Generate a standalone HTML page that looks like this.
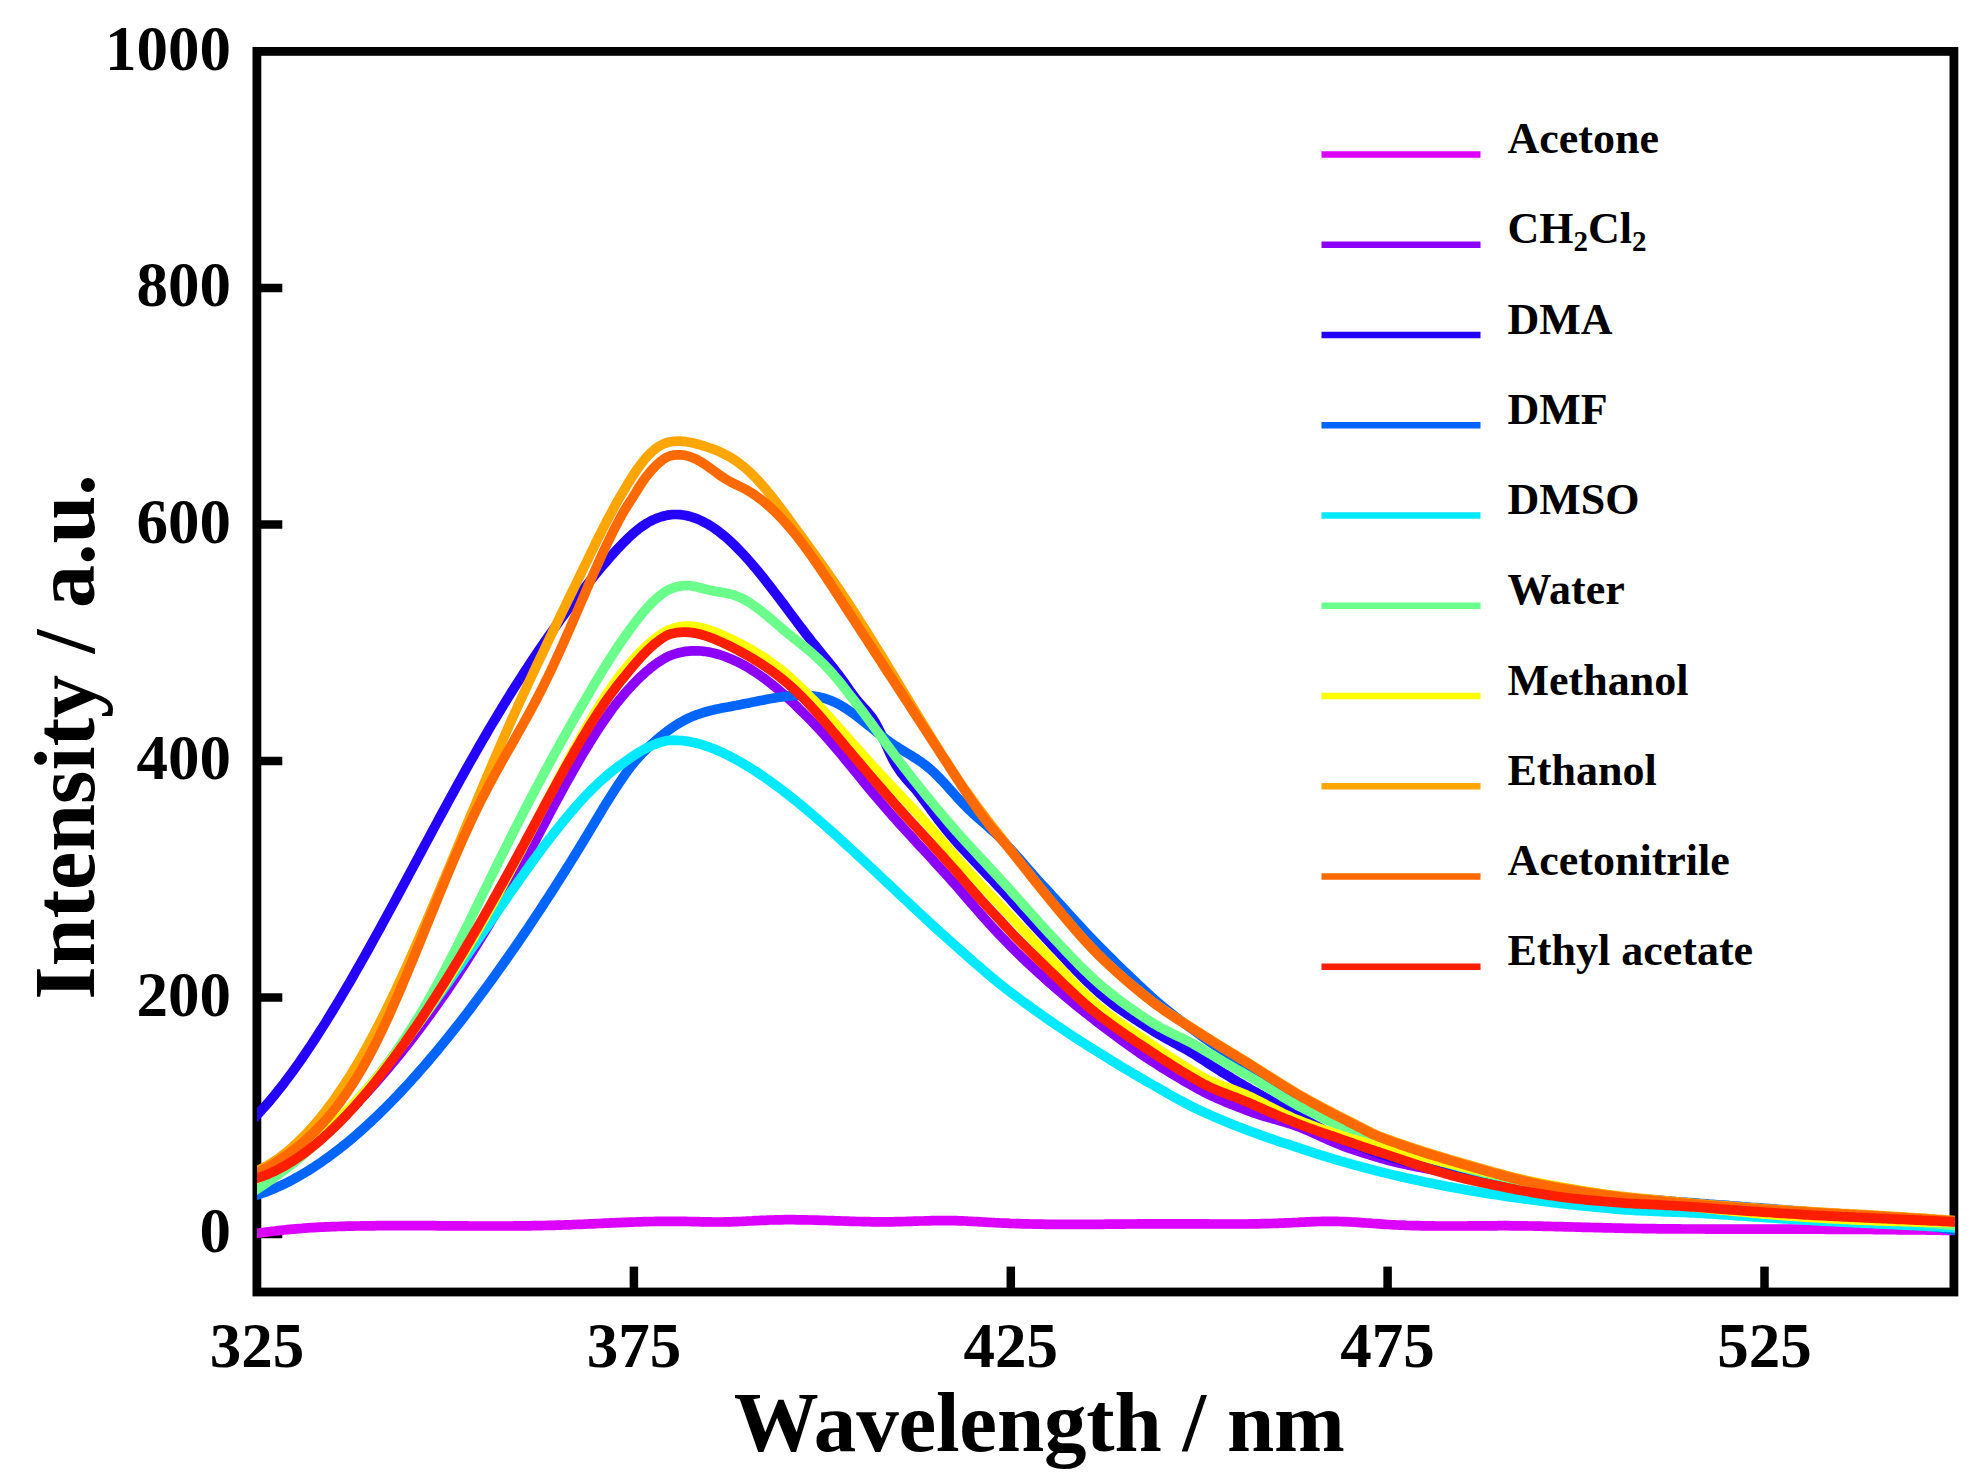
<!DOCTYPE html>
<html><head><meta charset="utf-8"><title>Fluorescence spectra</title>
<style>html,body{margin:0;padding:0;background:#fff}body{width:1986px;height:1484px;overflow:hidden}</style></head>
<body>
<svg width="1986" height="1484" viewBox="0 0 1986 1484" style="display:block">
<rect width="1986" height="1484" fill="#fff"/>
<defs><clipPath id="pc"><rect x="257" y="40" width="1698" height="1253"/></clipPath></defs>
<rect x="256.9" y="51.4" width="1697.0" height="1240.6" fill="none" stroke="#000" stroke-width="8.8"/>
<line x1="256.9" y1="1234.0" x2="282.3" y2="1234.0" stroke="#000" stroke-width="8.5"/>
<line x1="256.9" y1="997.5" x2="282.3" y2="997.5" stroke="#000" stroke-width="8.5"/>
<line x1="256.9" y1="761.0" x2="282.3" y2="761.0" stroke="#000" stroke-width="8.5"/>
<line x1="256.9" y1="524.5" x2="282.3" y2="524.5" stroke="#000" stroke-width="8.5"/>
<line x1="256.9" y1="288.0" x2="282.3" y2="288.0" stroke="#000" stroke-width="8.5"/>
<line x1="633.9" y1="1292.0" x2="633.9" y2="1266.6" stroke="#000" stroke-width="8.5"/>
<line x1="1010.8" y1="1292.0" x2="1010.8" y2="1266.6" stroke="#000" stroke-width="8.5"/>
<line x1="1387.6" y1="1292.0" x2="1387.6" y2="1266.6" stroke="#000" stroke-width="8.5"/>
<line x1="1764.5" y1="1292.0" x2="1764.5" y2="1266.6" stroke="#000" stroke-width="8.5"/>
<g clip-path="url(#pc)" fill="none" stroke-linejoin="round" stroke-linecap="butt">
<path d="M248.0,1234.8 L257.0,1233.4 L260.0,1232.9 L263.0,1232.5 L266.0,1232.1 L269.0,1231.7 L272.0,1231.3 L275.0,1231.0 L278.0,1230.6 L281.0,1230.3 L284.0,1230.0 L287.0,1229.7 L290.0,1229.4 L293.0,1229.1 L296.0,1228.8 L299.0,1228.6 L302.0,1228.4 L305.0,1228.1 L308.0,1227.9 L311.0,1227.7 L314.0,1227.6 L317.0,1227.4 L320.0,1227.2 L323.0,1227.1 L326.0,1226.9 L329.0,1226.8 L332.0,1226.7 L335.0,1226.6 L338.0,1226.5 L341.0,1226.4 L344.0,1226.3 L347.0,1226.2 L350.0,1226.1 L353.0,1226.1 L356.0,1226.0 L359.0,1226.0 L362.0,1225.9 L365.0,1225.9 L368.0,1225.8 L371.0,1225.8 L374.0,1225.8 L377.0,1225.7 L380.0,1225.7 L383.0,1225.7 L386.0,1225.7 L389.0,1225.6 L392.0,1225.6 L395.0,1225.6 L398.0,1225.6 L401.0,1225.6 L404.0,1225.6 L407.0,1225.6 L410.0,1225.6 L413.0,1225.6 L416.0,1225.7 L419.0,1225.7 L422.0,1225.7 L425.0,1225.7 L428.0,1225.7 L431.0,1225.7 L434.0,1225.7 L437.0,1225.8 L440.0,1225.8 L443.0,1225.8 L446.0,1225.8 L449.0,1225.8 L452.0,1225.9 L455.0,1225.9 L458.0,1225.9 L461.0,1225.9 L464.0,1225.9 L467.0,1225.9 L470.0,1226.0 L473.0,1226.0 L476.0,1226.0 L479.0,1226.0 L482.0,1226.0 L485.0,1226.0 L488.0,1226.0 L491.0,1226.0 L494.0,1226.0 L497.0,1226.0 L500.0,1226.0 L503.0,1226.0 L506.0,1226.0 L509.0,1226.0 L512.0,1226.0 L515.0,1225.9 L518.0,1225.9 L521.0,1225.9 L524.0,1225.9 L527.0,1225.8 L530.0,1225.8 L533.0,1225.7 L536.0,1225.7 L539.0,1225.6 L542.0,1225.6 L545.0,1225.5 L548.0,1225.4 L551.0,1225.4 L554.0,1225.3 L557.0,1225.2 L560.0,1225.1 L563.0,1225.0 L566.0,1224.9 L569.0,1224.8 L572.0,1224.7 L575.0,1224.5 L578.0,1224.4 L581.0,1224.3 L584.0,1224.2 L587.0,1224.0 L590.0,1223.9 L593.0,1223.8 L596.0,1223.6 L599.0,1223.5 L602.0,1223.3 L605.0,1223.2 L608.0,1223.1 L611.0,1222.9 L614.0,1222.8 L617.0,1222.7 L620.0,1222.6 L623.0,1222.4 L626.0,1222.3 L629.0,1222.2 L632.0,1222.1 L635.0,1222.0 L638.0,1221.9 L641.0,1221.8 L644.0,1221.7 L647.0,1221.6 L650.0,1221.5 L653.0,1221.5 L656.0,1221.4 L659.0,1221.4 L662.0,1221.3 L665.0,1221.3 L668.0,1221.3 L671.0,1221.3 L674.0,1221.3 L677.0,1221.3 L680.0,1221.3 L683.0,1221.4 L686.0,1221.4 L689.0,1221.5 L692.0,1221.6 L695.0,1221.6 L698.0,1221.7 L701.0,1221.8 L704.0,1221.8 L707.0,1221.9 L710.0,1221.9 L713.0,1222.0 L716.0,1222.0 L719.0,1222.0 L722.0,1222.0 L725.0,1221.9 L728.0,1221.9 L731.0,1221.8 L734.0,1221.7 L737.0,1221.6 L740.0,1221.5 L743.0,1221.3 L746.0,1221.2 L749.0,1221.0 L752.0,1220.9 L755.0,1220.7 L758.0,1220.6 L761.0,1220.4 L764.0,1220.3 L767.0,1220.2 L770.0,1220.0 L773.0,1220.0 L776.0,1219.9 L779.0,1219.8 L782.0,1219.8 L785.0,1219.7 L788.0,1219.7 L791.0,1219.7 L794.0,1219.7 L797.0,1219.8 L800.0,1219.8 L803.0,1219.8 L806.0,1219.9 L809.0,1220.0 L812.0,1220.0 L815.0,1220.1 L818.0,1220.2 L821.0,1220.3 L824.0,1220.4 L827.0,1220.5 L830.0,1220.6 L833.0,1220.7 L836.0,1220.8 L839.0,1220.9 L842.0,1221.0 L845.0,1221.1 L848.0,1221.2 L851.0,1221.3 L854.0,1221.4 L857.0,1221.5 L860.0,1221.5 L863.0,1221.6 L866.0,1221.7 L869.0,1221.7 L872.0,1221.8 L875.0,1221.8 L878.0,1221.8 L881.0,1221.9 L884.0,1221.9 L887.0,1221.8 L890.0,1221.8 L893.0,1221.8 L896.0,1221.7 L899.0,1221.6 L902.0,1221.6 L905.0,1221.5 L908.0,1221.4 L911.0,1221.3 L914.0,1221.2 L917.0,1221.1 L920.0,1221.0 L923.0,1221.0 L926.0,1220.9 L929.0,1220.8 L932.0,1220.7 L935.0,1220.7 L938.0,1220.6 L941.0,1220.6 L944.0,1220.6 L947.0,1220.6 L950.0,1220.6 L953.0,1220.6 L956.0,1220.7 L959.0,1220.8 L962.0,1220.9 L965.0,1221.0 L968.0,1221.2 L971.0,1221.3 L974.0,1221.5 L977.0,1221.6 L980.0,1221.8 L983.0,1222.0 L986.0,1222.2 L989.0,1222.3 L992.0,1222.5 L995.0,1222.7 L998.0,1222.8 L1001.0,1223.0 L1004.0,1223.1 L1007.0,1223.2 L1010.0,1223.4 L1013.0,1223.5 L1016.0,1223.6 L1019.0,1223.7 L1022.0,1223.8 L1025.0,1223.9 L1028.0,1223.9 L1031.0,1224.0 L1034.0,1224.1 L1037.0,1224.1 L1040.0,1224.2 L1043.0,1224.2 L1046.0,1224.3 L1049.0,1224.3 L1052.0,1224.3 L1055.0,1224.3 L1058.0,1224.4 L1061.0,1224.4 L1064.0,1224.4 L1067.0,1224.4 L1070.0,1224.4 L1073.0,1224.4 L1076.0,1224.4 L1079.0,1224.4 L1082.0,1224.4 L1085.0,1224.4 L1088.0,1224.4 L1091.0,1224.3 L1094.0,1224.3 L1097.0,1224.3 L1100.0,1224.3 L1103.0,1224.3 L1106.0,1224.2 L1109.0,1224.2 L1112.0,1224.2 L1115.0,1224.2 L1118.0,1224.1 L1121.0,1224.1 L1124.0,1224.1 L1127.0,1224.0 L1130.0,1224.0 L1133.0,1224.0 L1136.0,1224.0 L1139.0,1223.9 L1142.0,1223.9 L1145.0,1223.9 L1148.0,1223.9 L1151.0,1223.8 L1154.0,1223.8 L1157.0,1223.8 L1160.0,1223.8 L1163.0,1223.8 L1166.0,1223.8 L1169.0,1223.8 L1172.0,1223.8 L1175.0,1223.8 L1178.0,1223.8 L1181.0,1223.8 L1184.0,1223.8 L1187.0,1223.8 L1190.0,1223.8 L1193.0,1223.8 L1196.0,1223.9 L1199.0,1223.9 L1202.0,1223.9 L1205.0,1223.9 L1208.0,1223.9 L1211.0,1224.0 L1214.0,1224.0 L1217.0,1224.0 L1220.0,1224.0 L1223.0,1224.0 L1226.0,1224.0 L1229.0,1224.0 L1232.0,1224.0 L1235.0,1224.0 L1238.0,1224.0 L1241.0,1224.0 L1244.0,1224.0 L1247.0,1224.0 L1250.0,1223.9 L1253.0,1223.9 L1256.0,1223.9 L1259.0,1223.8 L1262.0,1223.7 L1265.0,1223.7 L1268.0,1223.6 L1271.0,1223.5 L1274.0,1223.4 L1277.0,1223.3 L1280.0,1223.2 L1283.0,1223.1 L1286.0,1222.9 L1289.0,1222.8 L1292.0,1222.7 L1295.0,1222.5 L1298.0,1222.4 L1301.0,1222.2 L1304.0,1222.1 L1307.0,1221.9 L1310.0,1221.8 L1313.0,1221.7 L1316.0,1221.6 L1319.0,1221.5 L1322.0,1221.4 L1325.0,1221.4 L1328.0,1221.4 L1331.0,1221.3 L1334.0,1221.4 L1337.0,1221.4 L1340.0,1221.5 L1343.0,1221.6 L1346.0,1221.7 L1349.0,1221.8 L1352.0,1222.0 L1355.0,1222.2 L1358.0,1222.4 L1361.0,1222.6 L1364.0,1222.8 L1367.0,1223.0 L1370.0,1223.2 L1373.0,1223.5 L1376.0,1223.7 L1379.0,1223.9 L1382.0,1224.1 L1385.0,1224.3 L1388.0,1224.5 L1391.0,1224.7 L1394.0,1224.8 L1397.0,1225.0 L1400.0,1225.1 L1403.0,1225.2 L1406.0,1225.4 L1409.0,1225.5 L1412.0,1225.6 L1415.0,1225.6 L1418.0,1225.7 L1421.0,1225.8 L1424.0,1225.8 L1427.0,1225.9 L1430.0,1225.9 L1433.0,1225.9 L1436.0,1226.0 L1439.0,1226.0 L1442.0,1226.0 L1445.0,1226.0 L1448.0,1226.0 L1451.0,1226.0 L1454.0,1226.0 L1457.0,1226.0 L1460.0,1226.0 L1463.0,1226.0 L1466.0,1226.0 L1469.0,1225.9 L1472.0,1225.9 L1475.0,1225.9 L1478.0,1225.9 L1481.0,1225.8 L1484.0,1225.8 L1487.0,1225.8 L1490.0,1225.8 L1493.0,1225.8 L1496.0,1225.8 L1499.0,1225.7 L1502.0,1225.7 L1505.0,1225.7 L1508.0,1225.7 L1511.0,1225.8 L1514.0,1225.8 L1517.0,1225.8 L1520.0,1225.8 L1523.0,1225.9 L1526.0,1225.9 L1529.0,1226.0 L1532.0,1226.0 L1535.0,1226.1 L1538.0,1226.1 L1541.0,1226.2 L1544.0,1226.3 L1547.0,1226.3 L1550.0,1226.4 L1553.0,1226.5 L1556.0,1226.6 L1559.0,1226.6 L1562.0,1226.7 L1565.0,1226.8 L1568.0,1226.9 L1571.0,1226.9 L1574.0,1227.0 L1577.0,1227.1 L1580.0,1227.2 L1583.0,1227.3 L1586.0,1227.3 L1589.0,1227.4 L1592.0,1227.5 L1595.0,1227.6 L1598.0,1227.7 L1601.0,1227.7 L1604.0,1227.8 L1607.0,1227.9 L1610.0,1227.9 L1613.0,1228.0 L1616.0,1228.1 L1619.0,1228.1 L1622.0,1228.2 L1625.0,1228.3 L1628.0,1228.3 L1631.0,1228.4 L1634.0,1228.4 L1637.0,1228.5 L1640.0,1228.5 L1643.0,1228.6 L1646.0,1228.6 L1649.0,1228.7 L1652.0,1228.7 L1655.0,1228.7 L1658.0,1228.8 L1661.0,1228.8 L1664.0,1228.8 L1667.0,1228.9 L1670.0,1228.9 L1673.0,1228.9 L1676.0,1228.9 L1679.0,1228.9 L1682.0,1229.0 L1685.0,1229.0 L1688.0,1229.0 L1691.0,1229.0 L1694.0,1229.0 L1697.0,1229.0 L1700.0,1229.0 L1703.0,1229.0 L1706.0,1229.1 L1709.0,1229.1 L1712.0,1229.1 L1715.0,1229.1 L1718.0,1229.1 L1721.0,1229.1 L1724.0,1229.1 L1727.0,1229.1 L1730.0,1229.1 L1733.0,1229.1 L1736.0,1229.1 L1739.0,1229.1 L1742.0,1229.1 L1745.0,1229.1 L1748.0,1229.1 L1751.0,1229.1 L1754.0,1229.1 L1757.0,1229.1 L1760.0,1229.1 L1763.0,1229.1 L1766.0,1229.1 L1769.0,1229.1 L1772.0,1229.1 L1775.0,1229.1 L1778.0,1229.1 L1781.0,1229.1 L1784.0,1229.1 L1787.0,1229.1 L1790.0,1229.1 L1793.0,1229.1 L1796.0,1229.1 L1799.0,1229.2 L1802.0,1229.2 L1805.0,1229.2 L1808.0,1229.2 L1811.0,1229.2 L1814.0,1229.2 L1817.0,1229.2 L1820.0,1229.2 L1823.0,1229.2 L1826.0,1229.3 L1829.0,1229.3 L1832.0,1229.3 L1835.0,1229.3 L1838.0,1229.3 L1841.0,1229.3 L1844.0,1229.4 L1847.0,1229.4 L1850.0,1229.4 L1853.0,1229.4 L1856.0,1229.4 L1859.0,1229.5 L1862.0,1229.5 L1865.0,1229.5 L1868.0,1229.5 L1871.0,1229.5 L1874.0,1229.6 L1877.0,1229.6 L1880.0,1229.6 L1883.0,1229.6 L1886.0,1229.7 L1889.0,1229.7 L1892.0,1229.7 L1895.0,1229.7 L1898.0,1229.8 L1901.0,1229.8 L1904.0,1229.8 L1907.0,1229.9 L1910.0,1229.9 L1913.0,1229.9 L1916.0,1229.9 L1919.0,1230.0 L1922.0,1230.0 L1925.0,1230.0 L1928.0,1230.1 L1931.0,1230.1 L1934.0,1230.1 L1937.0,1230.2 L1940.0,1230.2 L1943.0,1230.3 L1946.0,1230.3 L1949.0,1230.3 L1952.0,1230.4 L1955.0,1230.4 L1964.0,1230.5" stroke="#dc00ff" stroke-width="9.7"/>
<path d="M248.0,1182.7 L257.0,1178.8 L260.0,1177.5 L263.0,1176.1 L266.0,1174.6 L269.0,1173.1 L272.0,1171.5 L275.0,1169.9 L278.0,1168.2 L281.0,1166.4 L284.0,1164.6 L287.0,1162.7 L290.0,1160.8 L293.0,1158.8 L296.0,1156.7 L299.0,1154.6 L302.0,1152.4 L305.0,1150.2 L308.0,1147.9 L311.0,1145.5 L314.0,1143.1 L317.0,1140.7 L320.0,1138.2 L323.0,1135.6 L326.0,1133.0 L329.0,1130.3 L332.0,1127.6 L335.0,1124.8 L338.0,1122.0 L341.0,1119.2 L344.0,1116.3 L347.0,1113.3 L350.0,1110.3 L353.0,1107.2 L356.0,1104.1 L359.0,1101.0 L362.0,1097.8 L365.0,1094.6 L368.0,1091.3 L371.0,1088.0 L374.0,1084.7 L377.0,1081.3 L380.0,1077.9 L383.0,1074.4 L386.0,1070.9 L389.0,1067.3 L392.0,1063.7 L395.0,1060.1 L398.0,1056.5 L401.0,1052.7 L404.0,1049.0 L407.0,1045.2 L410.0,1041.4 L413.0,1037.5 L416.0,1033.6 L419.0,1029.6 L422.0,1025.6 L425.0,1021.6 L428.0,1017.5 L431.0,1013.4 L434.0,1009.2 L437.0,1005.0 L440.0,1000.7 L443.0,996.4 L446.0,992.1 L449.0,987.7 L452.0,983.3 L455.0,978.8 L458.0,974.3 L461.0,969.7 L464.0,965.1 L467.0,960.4 L470.0,955.7 L473.0,951.0 L476.0,946.2 L479.0,941.3 L482.0,936.4 L485.0,931.4 L488.0,926.4 L491.0,921.3 L494.0,916.2 L497.0,911.0 L500.0,905.8 L503.0,900.5 L506.0,895.1 L509.0,889.7 L512.0,884.2 L515.0,878.7 L518.0,873.2 L521.0,867.6 L524.0,862.0 L527.0,856.3 L530.0,850.7 L533.0,845.0 L536.0,839.4 L539.0,833.7 L542.0,828.0 L545.0,822.4 L548.0,816.8 L551.0,811.1 L554.0,805.5 L557.0,800.0 L560.0,794.4 L563.0,788.9 L566.0,783.5 L569.0,778.1 L572.0,772.8 L575.0,767.5 L578.0,762.3 L581.0,757.1 L584.0,752.0 L587.0,747.1 L590.0,742.2 L593.0,737.4 L596.0,732.6 L599.0,728.0 L602.0,723.5 L605.0,719.2 L608.0,714.9 L611.0,710.7 L614.0,706.7 L617.0,702.8 L620.0,699.1 L623.0,695.5 L626.0,692.0 L629.0,688.7 L632.0,685.4 L635.0,682.3 L638.0,679.2 L641.0,676.3 L644.0,673.6 L647.0,670.9 L650.0,668.4 L653.0,666.1 L656.0,663.9 L659.0,661.8 L662.0,659.9 L665.0,658.1 L668.0,656.5 L671.0,655.3 L674.0,654.2 L677.0,653.3 L680.0,652.5 L683.0,651.9 L686.0,651.4 L689.0,651.1 L692.0,650.9 L695.0,650.8 L698.0,650.8 L701.0,651.0 L704.0,651.3 L707.0,651.7 L710.0,652.3 L713.0,652.9 L716.0,653.7 L719.0,654.5 L722.0,655.5 L725.0,656.5 L728.0,657.7 L731.0,658.9 L734.0,660.3 L737.0,661.7 L740.0,663.2 L743.0,664.8 L746.0,666.4 L749.0,668.2 L752.0,670.1 L755.0,672.0 L758.0,674.0 L761.0,676.1 L764.0,678.2 L767.0,680.5 L770.0,682.8 L773.0,685.2 L776.0,687.6 L779.0,690.2 L782.0,692.8 L785.0,695.4 L788.0,698.2 L791.0,701.0 L794.0,703.8 L797.0,706.8 L800.0,709.8 L803.0,712.6 L806.0,715.6 L809.0,718.6 L812.0,721.7 L815.0,724.8 L818.0,728.0 L821.0,731.2 L824.0,734.6 L827.0,737.9 L830.0,741.4 L833.0,744.9 L836.0,748.4 L839.0,751.9 L842.0,755.5 L845.0,759.2 L848.0,762.8 L851.0,766.5 L854.0,770.1 L857.0,773.8 L860.0,777.5 L863.0,781.2 L866.0,784.8 L869.0,788.5 L872.0,792.1 L875.0,795.7 L878.0,799.2 L881.0,802.7 L884.0,806.2 L887.0,809.7 L890.0,813.1 L893.0,816.5 L896.0,819.8 L899.0,823.2 L902.0,826.5 L905.0,829.8 L908.0,833.1 L911.0,836.3 L914.0,839.6 L917.0,842.9 L920.0,846.1 L923.0,849.3 L926.0,852.6 L929.0,855.8 L932.0,859.1 L935.0,862.4 L938.0,865.6 L941.0,868.9 L944.0,872.2 L947.0,875.5 L950.0,878.9 L953.0,882.3 L956.0,885.6 L959.0,889.0 L962.0,892.5 L965.0,896.0 L968.0,899.5 L971.0,903.0 L974.0,906.4 L977.0,909.9 L980.0,913.3 L983.0,916.7 L986.0,920.1 L989.0,923.4 L992.0,926.7 L995.0,929.9 L998.0,933.1 L1001.0,936.3 L1004.0,939.4 L1007.0,942.5 L1010.0,945.6 L1013.0,948.6 L1016.0,951.6 L1019.0,954.5 L1022.0,957.4 L1025.0,960.3 L1028.0,963.1 L1031.0,965.9 L1034.0,968.7 L1037.0,971.5 L1040.0,974.2 L1043.0,976.9 L1046.0,979.6 L1049.0,982.3 L1052.0,984.9 L1055.0,987.5 L1058.0,990.1 L1061.0,992.7 L1064.0,995.2 L1067.0,997.7 L1070.0,1000.2 L1073.0,1002.7 L1076.0,1005.2 L1079.0,1007.6 L1082.0,1010.0 L1085.0,1012.4 L1088.0,1014.8 L1091.0,1017.1 L1094.0,1019.5 L1097.0,1021.8 L1100.0,1024.1 L1103.0,1026.4 L1106.0,1028.7 L1109.0,1030.9 L1112.0,1033.2 L1115.0,1035.4 L1118.0,1037.6 L1121.0,1039.8 L1124.0,1042.0 L1127.0,1044.2 L1130.0,1046.3 L1133.0,1048.4 L1136.0,1050.5 L1139.0,1052.6 L1142.0,1054.6 L1145.0,1056.6 L1148.0,1058.6 L1151.0,1060.6 L1154.0,1062.5 L1157.0,1064.5 L1160.0,1066.4 L1163.0,1068.3 L1166.0,1070.1 L1169.0,1072.0 L1172.0,1073.8 L1175.0,1075.6 L1178.0,1077.4 L1181.0,1079.2 L1184.0,1081.0 L1187.0,1082.7 L1190.0,1084.4 L1193.0,1086.1 L1196.0,1087.8 L1199.0,1089.4 L1202.0,1091.0 L1205.0,1092.6 L1208.0,1094.1 L1211.0,1095.5 L1214.0,1096.9 L1217.0,1098.3 L1220.0,1099.6 L1223.0,1100.9 L1226.0,1102.2 L1229.0,1103.4 L1232.0,1104.6 L1235.0,1105.8 L1238.0,1106.9 L1241.0,1108.1 L1244.0,1109.2 L1247.0,1110.4 L1250.0,1111.5 L1253.0,1112.6 L1256.0,1113.6 L1259.0,1114.6 L1262.0,1115.6 L1265.0,1116.5 L1268.0,1117.3 L1271.0,1118.2 L1274.0,1119.1 L1277.0,1119.9 L1280.0,1120.8 L1283.0,1121.7 L1286.0,1122.6 L1289.0,1123.5 L1292.0,1124.5 L1295.0,1125.5 L1298.0,1126.6 L1301.0,1127.8 L1304.0,1129.0 L1307.0,1130.3 L1310.0,1131.6 L1313.0,1132.9 L1316.0,1134.3 L1319.0,1135.6 L1322.0,1137.0 L1325.0,1138.4 L1328.0,1139.7 L1331.0,1141.0 L1334.0,1142.3 L1337.0,1143.6 L1340.0,1144.8 L1343.0,1146.0 L1346.0,1147.1 L1349.0,1148.2 L1352.0,1149.2 L1355.0,1150.2 L1358.0,1151.1 L1361.0,1152.1 L1364.0,1153.1 L1367.0,1154.0 L1370.0,1155.0 L1373.0,1155.9 L1376.0,1156.8 L1379.0,1157.7 L1382.0,1158.6 L1385.0,1159.4 L1388.0,1160.3 L1391.0,1161.1 L1394.0,1161.8 L1397.0,1162.5 L1400.0,1163.2 L1403.0,1163.9 L1406.0,1164.6 L1409.0,1165.2 L1412.0,1165.8 L1415.0,1166.4 L1418.0,1167.0 L1421.0,1167.6 L1424.0,1168.2 L1427.0,1168.7 L1430.0,1169.3 L1433.0,1169.9 L1436.0,1170.4 L1439.0,1171.0 L1442.0,1171.5 L1445.0,1172.1 L1448.0,1172.7 L1451.0,1173.3 L1454.0,1173.9 L1457.0,1174.5 L1460.0,1175.2 L1463.0,1175.8 L1466.0,1176.5 L1469.0,1177.2 L1472.0,1177.9 L1475.0,1178.7 L1478.0,1179.4 L1481.0,1180.1 L1484.0,1180.9 L1487.0,1181.7 L1490.0,1182.4 L1493.0,1183.2 L1496.0,1183.9 L1499.0,1184.7 L1502.0,1185.5 L1505.0,1186.2 L1508.0,1187.0 L1511.0,1187.7 L1514.0,1188.4 L1517.0,1189.1 L1520.0,1189.8 L1523.0,1190.4 L1526.0,1191.1 L1529.0,1191.7 L1532.0,1192.3 L1535.0,1192.8 L1538.0,1193.4 L1541.0,1193.9 L1544.0,1194.4 L1547.0,1194.8 L1550.0,1195.3 L1553.0,1195.7 L1556.0,1196.1 L1559.0,1196.6 L1562.0,1197.0 L1565.0,1197.4 L1568.0,1197.8 L1571.0,1198.2 L1574.0,1198.5 L1577.0,1198.9 L1580.0,1199.3 L1583.0,1199.6 L1586.0,1200.0 L1589.0,1200.3 L1592.0,1200.6 L1595.0,1201.0 L1598.0,1201.3 L1601.0,1201.6 L1604.0,1201.9 L1607.0,1202.2 L1610.0,1202.5 L1613.0,1202.8 L1616.0,1203.1 L1619.0,1203.4 L1622.0,1203.7 L1625.0,1204.0 L1628.0,1204.2 L1631.0,1204.5 L1634.0,1204.7 L1637.0,1205.0 L1640.0,1205.2 L1643.0,1205.4 L1646.0,1205.6 L1649.0,1205.8 L1652.0,1206.0 L1655.0,1206.1 L1658.0,1206.3 L1661.0,1206.5 L1664.0,1206.7 L1667.0,1206.9 L1670.0,1207.0 L1673.0,1207.2 L1676.0,1207.4 L1679.0,1207.6 L1682.0,1207.7 L1685.0,1207.9 L1688.0,1208.1 L1691.0,1208.3 L1694.0,1208.5 L1697.0,1208.8 L1700.0,1209.0 L1703.0,1209.2 L1706.0,1209.5 L1709.0,1209.7 L1712.0,1209.9 L1715.0,1210.2 L1718.0,1210.4 L1721.0,1210.7 L1724.0,1210.9 L1727.0,1211.1 L1730.0,1211.4 L1733.0,1211.6 L1736.0,1211.9 L1739.0,1212.1 L1742.0,1212.3 L1745.0,1212.6 L1748.0,1212.8 L1751.0,1213.0 L1754.0,1213.3 L1757.0,1213.5 L1760.0,1213.7 L1763.0,1213.9 L1766.0,1214.2 L1769.0,1214.4 L1772.0,1214.6 L1775.0,1214.8 L1778.0,1215.0 L1781.0,1215.3 L1784.0,1215.5 L1787.0,1215.7 L1790.0,1215.9 L1793.0,1216.1 L1796.0,1216.3 L1799.0,1216.5 L1802.0,1216.7 L1805.0,1216.9 L1808.0,1217.0 L1811.0,1217.2 L1814.0,1217.4 L1817.0,1217.6 L1820.0,1217.8 L1823.0,1217.9 L1826.0,1218.1 L1829.0,1218.3 L1832.0,1218.4 L1835.0,1218.6 L1838.0,1218.8 L1841.0,1218.9 L1844.0,1219.1 L1847.0,1219.2 L1850.0,1219.4 L1853.0,1219.6 L1856.0,1219.7 L1859.0,1219.9 L1862.0,1220.1 L1865.0,1220.2 L1868.0,1220.4 L1871.0,1220.6 L1874.0,1220.7 L1877.0,1220.9 L1880.0,1221.1 L1883.0,1221.2 L1886.0,1221.4 L1889.0,1221.6 L1892.0,1221.7 L1895.0,1221.9 L1898.0,1222.1 L1901.0,1222.3 L1904.0,1222.4 L1907.0,1222.6 L1910.0,1222.8 L1913.0,1223.0 L1916.0,1223.1 L1919.0,1223.3 L1922.0,1223.5 L1925.0,1223.7 L1928.0,1223.9 L1931.0,1224.1 L1934.0,1224.2 L1937.0,1224.4 L1940.0,1224.6 L1943.0,1224.8 L1946.0,1225.0 L1949.0,1225.2 L1952.0,1225.4 L1955.0,1225.6 L1964.0,1226.2" stroke="#8b00ff" stroke-width="9.7"/>
<path d="M248.0,1124.7 L257.0,1115.1 L260.0,1111.9 L263.0,1108.6 L266.0,1105.2 L269.0,1101.8 L272.0,1098.2 L275.0,1094.6 L278.0,1090.8 L281.0,1087.0 L284.0,1083.2 L287.0,1079.2 L290.0,1075.2 L293.0,1071.1 L296.0,1066.9 L299.0,1062.7 L302.0,1058.4 L305.0,1054.0 L308.0,1049.6 L311.0,1045.1 L314.0,1040.5 L317.0,1035.9 L320.0,1031.2 L323.0,1026.5 L326.0,1021.7 L329.0,1016.8 L332.0,1011.9 L335.0,1007.0 L338.0,1002.0 L341.0,997.0 L344.0,991.9 L347.0,986.8 L350.0,981.7 L353.0,976.5 L356.0,971.2 L359.0,966.0 L362.0,960.7 L365.0,955.3 L368.0,950.0 L371.0,944.6 L374.0,939.2 L377.0,933.7 L380.0,928.3 L383.0,922.8 L386.0,917.3 L389.0,911.8 L392.0,906.2 L395.0,900.7 L398.0,895.1 L401.0,889.6 L404.0,884.0 L407.0,878.4 L410.0,872.8 L413.0,867.2 L416.0,861.6 L419.0,856.0 L422.0,850.4 L425.0,844.8 L428.0,839.2 L431.0,833.6 L434.0,828.0 L437.0,822.5 L440.0,816.9 L443.0,811.4 L446.0,805.9 L449.0,800.3 L452.0,794.9 L455.0,789.4 L458.0,783.9 L461.0,778.5 L464.0,773.1 L467.0,767.7 L470.0,762.4 L473.0,757.1 L476.0,751.8 L479.0,746.5 L482.0,741.3 L485.0,736.2 L488.0,731.0 L491.0,725.9 L494.0,720.9 L497.0,715.9 L500.0,710.9 L503.0,706.0 L506.0,701.1 L509.0,696.2 L512.0,691.4 L515.0,686.7 L518.0,682.0 L521.0,677.3 L524.0,672.6 L527.0,668.1 L530.0,663.5 L533.0,659.0 L536.0,654.5 L539.0,650.1 L542.0,645.7 L545.0,641.3 L548.0,637.0 L551.0,632.8 L554.0,628.6 L557.0,624.4 L560.0,620.2 L563.0,616.1 L566.0,612.1 L569.0,608.0 L572.0,604.1 L575.0,600.1 L578.0,596.2 L581.0,592.4 L584.0,588.6 L587.0,584.8 L590.0,581.1 L593.0,577.4 L596.0,573.7 L599.0,570.1 L602.0,566.5 L605.0,563.0 L608.0,559.5 L611.0,556.1 L614.0,552.7 L617.0,549.4 L620.0,546.3 L623.0,543.2 L626.0,540.2 L629.0,537.3 L632.0,534.5 L635.0,531.9 L638.0,529.4 L641.0,527.1 L644.0,525.1 L647.0,523.1 L650.0,521.4 L653.0,519.9 L656.0,518.6 L659.0,517.5 L662.0,516.5 L665.0,515.7 L668.0,515.1 L671.0,514.7 L674.0,514.5 L677.0,514.5 L680.0,514.7 L683.0,515.0 L686.0,515.5 L689.0,516.2 L692.0,517.1 L695.0,518.1 L698.0,519.3 L701.0,520.6 L704.0,522.1 L707.0,523.7 L710.0,525.5 L713.0,527.4 L716.0,529.5 L719.0,531.7 L722.0,534.1 L725.0,536.6 L728.0,539.2 L731.0,541.9 L734.0,544.7 L737.0,547.7 L740.0,550.8 L743.0,554.0 L746.0,557.2 L749.0,560.6 L752.0,564.1 L755.0,567.6 L758.0,571.2 L761.0,574.9 L764.0,578.6 L767.0,582.4 L770.0,586.3 L773.0,590.2 L776.0,594.1 L779.0,598.0 L782.0,602.0 L785.0,606.0 L788.0,610.1 L791.0,614.1 L794.0,618.1 L797.0,622.1 L800.0,626.1 L803.0,630.0 L806.0,634.0 L809.0,637.8 L812.0,641.7 L815.0,645.4 L818.0,649.1 L821.0,652.8 L824.0,656.5 L827.0,660.1 L830.0,663.8 L833.0,667.6 L836.0,671.4 L839.0,675.3 L842.0,679.4 L845.0,683.6 L848.0,687.9 L851.0,692.2 L854.0,696.2 L857.0,700.1 L860.0,703.6 L863.0,706.9 L866.0,710.1 L869.0,713.6 L872.0,717.5 L875.0,722.1 L878.0,727.5 L881.0,733.7 L884.0,740.3 L887.0,747.1 L890.0,753.7 L893.0,759.8 L896.0,765.1 L899.0,769.7 L902.0,773.8 L905.0,777.6 L908.0,781.0 L911.0,784.4 L914.0,787.7 L917.0,791.2 L920.0,795.0 L923.0,799.0 L926.0,803.1 L929.0,807.2 L932.0,811.4 L935.0,815.4 L938.0,819.4 L941.0,823.2 L944.0,827.0 L947.0,830.7 L950.0,834.3 L953.0,837.9 L956.0,841.4 L959.0,844.8 L962.0,848.1 L965.0,851.3 L968.0,854.5 L971.0,857.7 L974.0,860.8 L977.0,864.0 L980.0,867.1 L983.0,870.3 L986.0,873.4 L989.0,876.6 L992.0,879.7 L995.0,882.9 L998.0,886.1 L1001.0,889.3 L1004.0,892.5 L1007.0,895.8 L1010.0,899.1 L1013.0,902.4 L1016.0,905.7 L1019.0,909.0 L1022.0,912.3 L1025.0,915.6 L1028.0,918.9 L1031.0,922.2 L1034.0,925.5 L1037.0,928.8 L1040.0,932.1 L1043.0,935.3 L1046.0,938.5 L1049.0,941.7 L1052.0,944.9 L1055.0,948.1 L1058.0,951.3 L1061.0,954.5 L1064.0,957.7 L1067.0,960.9 L1070.0,964.1 L1073.0,967.2 L1076.0,970.4 L1079.0,973.5 L1082.0,976.5 L1085.0,979.5 L1088.0,982.5 L1091.0,985.3 L1094.0,988.2 L1097.0,990.9 L1100.0,993.6 L1103.0,996.1 L1106.0,998.6 L1109.0,1001.0 L1112.0,1003.3 L1115.0,1005.6 L1118.0,1007.8 L1121.0,1009.9 L1124.0,1012.0 L1127.0,1014.0 L1130.0,1016.0 L1133.0,1018.0 L1136.0,1020.0 L1139.0,1021.9 L1142.0,1023.8 L1145.0,1025.8 L1148.0,1027.7 L1151.0,1029.6 L1154.0,1031.5 L1157.0,1033.3 L1160.0,1035.1 L1163.0,1036.8 L1166.0,1038.5 L1169.0,1040.1 L1172.0,1041.8 L1175.0,1043.4 L1178.0,1045.1 L1181.0,1046.7 L1184.0,1048.4 L1187.0,1050.1 L1190.0,1051.8 L1193.0,1053.6 L1196.0,1055.4 L1199.0,1057.4 L1202.0,1059.3 L1205.0,1061.3 L1208.0,1063.3 L1211.0,1065.2 L1214.0,1067.1 L1217.0,1069.0 L1220.0,1070.9 L1223.0,1072.8 L1226.0,1074.6 L1229.0,1076.4 L1232.0,1078.3 L1235.0,1080.1 L1238.0,1081.9 L1241.0,1083.6 L1244.0,1085.4 L1247.0,1087.1 L1250.0,1088.9 L1253.0,1090.6 L1256.0,1092.3 L1259.0,1094.0 L1262.0,1095.6 L1265.0,1097.3 L1268.0,1098.9 L1271.0,1100.6 L1274.0,1102.2 L1277.0,1103.8 L1280.0,1105.4 L1283.0,1107.0 L1286.0,1108.6 L1289.0,1110.3 L1292.0,1112.0 L1295.0,1113.7 L1298.0,1115.4 L1301.0,1117.1 L1304.0,1118.8 L1307.0,1120.5 L1310.0,1122.2 L1313.0,1123.9 L1316.0,1125.6 L1319.0,1127.3 L1322.0,1128.9 L1325.0,1130.5 L1328.0,1132.1 L1331.0,1133.6 L1334.0,1135.2 L1337.0,1136.6 L1340.0,1138.0 L1343.0,1139.4 L1346.0,1140.7 L1349.0,1142.0 L1352.0,1143.2 L1355.0,1144.4 L1358.0,1145.6 L1361.0,1146.7 L1364.0,1147.9 L1367.0,1149.0 L1370.0,1150.1 L1373.0,1151.2 L1376.0,1152.3 L1379.0,1153.4 L1382.0,1154.4 L1385.0,1155.4 L1388.0,1156.4 L1391.0,1157.4 L1394.0,1158.2 L1397.0,1159.1 L1400.0,1159.9 L1403.0,1160.7 L1406.0,1161.5 L1409.0,1162.2 L1412.0,1163.0 L1415.0,1163.7 L1418.0,1164.4 L1421.0,1165.0 L1424.0,1165.7 L1427.0,1166.3 L1430.0,1167.0 L1433.0,1167.6 L1436.0,1168.3 L1439.0,1168.9 L1442.0,1169.5 L1445.0,1170.2 L1448.0,1170.9 L1451.0,1171.5 L1454.0,1172.2 L1457.0,1172.9 L1460.0,1173.6 L1463.0,1174.4 L1466.0,1175.1 L1469.0,1175.9 L1472.0,1176.7 L1475.0,1177.5 L1478.0,1178.3 L1481.0,1179.1 L1484.0,1180.0 L1487.0,1180.8 L1490.0,1181.7 L1493.0,1182.5 L1496.0,1183.3 L1499.0,1184.2 L1502.0,1185.0 L1505.0,1185.8 L1508.0,1186.6 L1511.0,1187.4 L1514.0,1188.2 L1517.0,1188.9 L1520.0,1189.6 L1523.0,1190.3 L1526.0,1191.0 L1529.0,1191.7 L1532.0,1192.3 L1535.0,1192.9 L1538.0,1193.4 L1541.0,1193.9 L1544.0,1194.4 L1547.0,1194.9 L1550.0,1195.3 L1553.0,1195.8 L1556.0,1196.2 L1559.0,1196.6 L1562.0,1197.0 L1565.0,1197.4 L1568.0,1197.8 L1571.0,1198.2 L1574.0,1198.6 L1577.0,1198.9 L1580.0,1199.3 L1583.0,1199.6 L1586.0,1200.0 L1589.0,1200.3 L1592.0,1200.6 L1595.0,1200.9 L1598.0,1201.2 L1601.0,1201.5 L1604.0,1201.8 L1607.0,1202.1 L1610.0,1202.3 L1613.0,1202.6 L1616.0,1202.9 L1619.0,1203.1 L1622.0,1203.4 L1625.0,1203.6 L1628.0,1203.9 L1631.0,1204.1 L1634.0,1204.3 L1637.0,1204.5 L1640.0,1204.7 L1643.0,1204.8 L1646.0,1205.0 L1649.0,1205.2 L1652.0,1205.3 L1655.0,1205.5 L1658.0,1205.6 L1661.0,1205.7 L1664.0,1205.9 L1667.0,1206.0 L1670.0,1206.2 L1673.0,1206.3 L1676.0,1206.4 L1679.0,1206.6 L1682.0,1206.7 L1685.0,1206.9 L1688.0,1207.0 L1691.0,1207.2 L1694.0,1207.4 L1697.0,1207.5 L1700.0,1207.7 L1703.0,1207.9 L1706.0,1208.1 L1709.0,1208.3 L1712.0,1208.5 L1715.0,1208.7 L1718.0,1208.9 L1721.0,1209.1 L1724.0,1209.3 L1727.0,1209.5 L1730.0,1209.7 L1733.0,1209.9 L1736.0,1210.2 L1739.0,1210.4 L1742.0,1210.6 L1745.0,1210.8 L1748.0,1211.0 L1751.0,1211.2 L1754.0,1211.4 L1757.0,1211.6 L1760.0,1211.8 L1763.0,1212.0 L1766.0,1212.2 L1769.0,1212.4 L1772.0,1212.6 L1775.0,1212.8 L1778.0,1213.0 L1781.0,1213.2 L1784.0,1213.4 L1787.0,1213.6 L1790.0,1213.8 L1793.0,1214.0 L1796.0,1214.1 L1799.0,1214.3 L1802.0,1214.5 L1805.0,1214.7 L1808.0,1214.9 L1811.0,1215.1 L1814.0,1215.3 L1817.0,1215.4 L1820.0,1215.6 L1823.0,1215.8 L1826.0,1216.0 L1829.0,1216.1 L1832.0,1216.3 L1835.0,1216.5 L1838.0,1216.7 L1841.0,1216.9 L1844.0,1217.1 L1847.0,1217.2 L1850.0,1217.4 L1853.0,1217.6 L1856.0,1217.8 L1859.0,1218.0 L1862.0,1218.2 L1865.0,1218.4 L1868.0,1218.6 L1871.0,1218.9 L1874.0,1219.1 L1877.0,1219.3 L1880.0,1219.5 L1883.0,1219.7 L1886.0,1220.0 L1889.0,1220.2 L1892.0,1220.4 L1895.0,1220.7 L1898.0,1220.9 L1901.0,1221.2 L1904.0,1221.4 L1907.0,1221.7 L1910.0,1221.9 L1913.0,1222.2 L1916.0,1222.5 L1919.0,1222.7 L1922.0,1223.0 L1925.0,1223.3 L1928.0,1223.6 L1931.0,1223.9 L1934.0,1224.2 L1937.0,1224.5 L1940.0,1224.8 L1943.0,1225.1 L1946.0,1225.4 L1949.0,1225.8 L1952.0,1226.1 L1955.0,1226.4 L1964.0,1227.5" stroke="#2300ff" stroke-width="9.7"/>
<path d="M248.0,1198.1 L257.0,1195.1 L260.0,1194.0 L263.0,1193.0 L266.0,1191.9 L269.0,1190.7 L272.0,1189.5 L275.0,1188.2 L278.0,1186.9 L281.0,1185.5 L284.0,1184.1 L287.0,1182.6 L290.0,1181.1 L293.0,1179.5 L296.0,1177.8 L299.0,1176.2 L302.0,1174.4 L305.0,1172.6 L308.0,1170.8 L311.0,1168.9 L314.0,1167.0 L317.0,1165.0 L320.0,1163.0 L323.0,1160.9 L326.0,1158.8 L329.0,1156.6 L332.0,1154.4 L335.0,1152.1 L338.0,1149.8 L341.0,1147.5 L344.0,1145.1 L347.0,1142.7 L350.0,1140.2 L353.0,1137.7 L356.0,1135.1 L359.0,1132.5 L362.0,1129.8 L365.0,1127.1 L368.0,1124.4 L371.0,1121.6 L374.0,1118.8 L377.0,1115.9 L380.0,1113.0 L383.0,1110.1 L386.0,1107.1 L389.0,1104.1 L392.0,1101.0 L395.0,1097.9 L398.0,1094.8 L401.0,1091.6 L404.0,1088.4 L407.0,1085.2 L410.0,1081.9 L413.0,1078.6 L416.0,1075.2 L419.0,1071.8 L422.0,1068.4 L425.0,1065.0 L428.0,1061.5 L431.0,1057.9 L434.0,1054.4 L437.0,1050.8 L440.0,1047.2 L443.0,1043.5 L446.0,1039.8 L449.0,1036.1 L452.0,1032.3 L455.0,1028.5 L458.0,1024.7 L461.0,1020.9 L464.0,1017.0 L467.0,1013.1 L470.0,1009.2 L473.0,1005.2 L476.0,1001.2 L479.0,997.2 L482.0,993.2 L485.0,989.1 L488.0,985.0 L491.0,980.9 L494.0,976.7 L497.0,972.5 L500.0,968.3 L503.0,964.1 L506.0,959.8 L509.0,955.6 L512.0,951.3 L515.0,946.9 L518.0,942.6 L521.0,938.2 L524.0,933.8 L527.0,929.4 L530.0,924.9 L533.0,920.4 L536.0,915.9 L539.0,911.4 L542.0,906.8 L545.0,902.2 L548.0,897.6 L551.0,893.0 L554.0,888.3 L557.0,883.6 L560.0,878.9 L563.0,874.2 L566.0,869.4 L569.0,864.6 L572.0,859.8 L575.0,854.9 L578.0,850.0 L581.0,845.1 L584.0,840.2 L587.0,835.2 L590.0,830.2 L593.0,825.2 L596.0,820.2 L599.0,815.2 L602.0,810.2 L605.0,805.3 L608.0,800.5 L611.0,795.7 L614.0,791.0 L617.0,786.4 L620.0,781.9 L623.0,777.5 L626.0,773.1 L629.0,769.0 L632.0,765.1 L635.0,761.4 L638.0,758.0 L641.0,754.7 L644.0,751.6 L647.0,748.6 L650.0,745.7 L653.0,743.0 L656.0,740.3 L659.0,737.8 L662.0,735.4 L665.0,733.0 L668.0,730.7 L671.0,728.5 L674.0,726.4 L677.0,724.5 L680.0,722.7 L683.0,721.0 L686.0,719.4 L689.0,717.9 L692.0,716.6 L695.0,715.4 L698.0,714.3 L701.0,713.3 L704.0,712.4 L707.0,711.5 L710.0,710.7 L713.0,710.0 L716.0,709.3 L719.0,708.7 L722.0,708.1 L725.0,707.5 L728.0,707.0 L731.0,706.4 L734.0,705.8 L737.0,705.3 L740.0,704.7 L743.0,704.1 L746.0,703.5 L749.0,702.9 L752.0,702.3 L755.0,701.7 L758.0,701.1 L761.0,700.5 L764.0,699.9 L767.0,699.3 L770.0,698.8 L773.0,698.3 L776.0,697.8 L779.0,697.3 L782.0,696.9 L785.0,696.5 L788.0,696.2 L791.0,695.9 L794.0,695.7 L797.0,695.5 L800.0,695.4 L803.0,695.4 L806.0,695.5 L809.0,695.6 L812.0,695.9 L815.0,696.3 L818.0,696.8 L821.0,697.4 L824.0,698.2 L827.0,699.1 L830.0,700.2 L833.0,701.5 L836.0,702.9 L839.0,704.4 L842.0,706.2 L845.0,708.0 L848.0,710.0 L851.0,712.0 L854.0,714.2 L857.0,716.4 L860.0,718.8 L863.0,721.1 L866.0,723.5 L869.0,725.9 L872.0,728.3 L875.0,730.7 L878.0,733.1 L881.0,735.4 L884.0,737.7 L887.0,740.0 L890.0,742.1 L893.0,744.2 L896.0,746.2 L899.0,748.1 L902.0,749.9 L905.0,751.8 L908.0,753.6 L911.0,755.4 L914.0,757.3 L917.0,759.2 L920.0,761.2 L923.0,763.4 L926.0,765.7 L929.0,768.1 L932.0,770.7 L935.0,773.5 L938.0,776.5 L941.0,779.6 L944.0,782.8 L947.0,786.1 L950.0,789.4 L953.0,792.7 L956.0,796.1 L959.0,799.4 L962.0,802.6 L965.0,805.7 L968.0,808.7 L971.0,811.6 L974.0,814.4 L977.0,817.0 L980.0,819.7 L983.0,822.3 L986.0,824.9 L989.0,827.6 L992.0,830.3 L995.0,833.0 L998.0,835.8 L1001.0,838.7 L1004.0,841.9 L1007.0,845.1 L1010.0,848.4 L1013.0,851.7 L1016.0,855.1 L1019.0,858.5 L1022.0,862.0 L1025.0,865.5 L1028.0,868.9 L1031.0,872.3 L1034.0,875.7 L1037.0,879.1 L1040.0,882.4 L1043.0,885.7 L1046.0,888.9 L1049.0,892.1 L1052.0,895.4 L1055.0,898.7 L1058.0,902.0 L1061.0,905.3 L1064.0,908.6 L1067.0,911.9 L1070.0,915.2 L1073.0,918.5 L1076.0,921.7 L1079.0,925.0 L1082.0,928.3 L1085.0,931.5 L1088.0,934.7 L1091.0,937.8 L1094.0,941.0 L1097.0,944.1 L1100.0,947.1 L1103.0,950.2 L1106.0,953.2 L1109.0,956.2 L1112.0,959.1 L1115.0,962.1 L1118.0,965.1 L1121.0,968.0 L1124.0,970.9 L1127.0,973.8 L1130.0,976.7 L1133.0,979.6 L1136.0,982.4 L1139.0,985.2 L1142.0,988.1 L1145.0,990.8 L1148.0,993.6 L1151.0,996.3 L1154.0,999.0 L1157.0,1001.7 L1160.0,1004.2 L1163.0,1006.7 L1166.0,1009.2 L1169.0,1011.6 L1172.0,1014.0 L1175.0,1016.3 L1178.0,1018.6 L1181.0,1020.9 L1184.0,1023.1 L1187.0,1025.3 L1190.0,1027.5 L1193.0,1029.7 L1196.0,1031.9 L1199.0,1034.1 L1202.0,1036.3 L1205.0,1038.5 L1208.0,1040.6 L1211.0,1042.7 L1214.0,1044.7 L1217.0,1046.8 L1220.0,1048.8 L1223.0,1050.8 L1226.0,1052.8 L1229.0,1054.8 L1232.0,1056.7 L1235.0,1058.7 L1238.0,1060.7 L1241.0,1062.7 L1244.0,1064.6 L1247.0,1066.6 L1250.0,1068.6 L1253.0,1070.7 L1256.0,1072.7 L1259.0,1074.6 L1262.0,1076.6 L1265.0,1078.6 L1268.0,1080.5 L1271.0,1082.5 L1274.0,1084.4 L1277.0,1086.3 L1280.0,1088.2 L1283.0,1090.1 L1286.0,1091.9 L1289.0,1093.8 L1292.0,1095.6 L1295.0,1097.4 L1298.0,1099.2 L1301.0,1100.9 L1304.0,1102.6 L1307.0,1104.4 L1310.0,1106.1 L1313.0,1107.8 L1316.0,1109.5 L1319.0,1111.1 L1322.0,1112.8 L1325.0,1114.4 L1328.0,1116.1 L1331.0,1117.7 L1334.0,1119.3 L1337.0,1120.8 L1340.0,1122.4 L1343.0,1124.0 L1346.0,1125.5 L1349.0,1127.0 L1352.0,1128.6 L1355.0,1130.1 L1358.0,1131.7 L1361.0,1133.2 L1364.0,1134.8 L1367.0,1136.3 L1370.0,1137.8 L1373.0,1139.3 L1376.0,1140.6 L1379.0,1141.9 L1382.0,1143.1 L1385.0,1144.2 L1388.0,1145.3 L1391.0,1146.3 L1394.0,1147.4 L1397.0,1148.4 L1400.0,1149.4 L1403.0,1150.4 L1406.0,1151.4 L1409.0,1152.4 L1412.0,1153.4 L1415.0,1154.3 L1418.0,1155.3 L1421.0,1156.2 L1424.0,1157.1 L1427.0,1158.0 L1430.0,1158.9 L1433.0,1159.8 L1436.0,1160.6 L1439.0,1161.5 L1442.0,1162.4 L1445.0,1163.2 L1448.0,1164.0 L1451.0,1164.9 L1454.0,1165.7 L1457.0,1166.5 L1460.0,1167.3 L1463.0,1168.1 L1466.0,1168.9 L1469.0,1169.7 L1472.0,1170.5 L1475.0,1171.3 L1478.0,1172.1 L1481.0,1172.9 L1484.0,1173.7 L1487.0,1174.5 L1490.0,1175.3 L1493.0,1176.0 L1496.0,1176.8 L1499.0,1177.5 L1502.0,1178.3 L1505.0,1179.0 L1508.0,1179.7 L1511.0,1180.4 L1514.0,1181.1 L1517.0,1181.8 L1520.0,1182.4 L1523.0,1183.1 L1526.0,1183.7 L1529.0,1184.3 L1532.0,1184.9 L1535.0,1185.5 L1538.0,1186.1 L1541.0,1186.6 L1544.0,1187.1 L1547.0,1187.6 L1550.0,1188.1 L1553.0,1188.6 L1556.0,1189.1 L1559.0,1189.5 L1562.0,1190.0 L1565.0,1190.4 L1568.0,1190.9 L1571.0,1191.3 L1574.0,1191.7 L1577.0,1192.1 L1580.0,1192.5 L1583.0,1192.9 L1586.0,1193.2 L1589.0,1193.6 L1592.0,1194.0 L1595.0,1194.3 L1598.0,1194.7 L1601.0,1195.0 L1604.0,1195.4 L1607.0,1195.7 L1610.0,1196.0 L1613.0,1196.3 L1616.0,1196.6 L1619.0,1196.9 L1622.0,1197.2 L1625.0,1197.5 L1628.0,1197.8 L1631.0,1198.1 L1634.0,1198.3 L1637.0,1198.6 L1640.0,1198.8 L1643.0,1199.0 L1646.0,1199.3 L1649.0,1199.5 L1652.0,1199.7 L1655.0,1200.0 L1658.0,1200.2 L1661.0,1200.4 L1664.0,1200.7 L1667.0,1200.9 L1670.0,1201.1 L1673.0,1201.3 L1676.0,1201.6 L1679.0,1201.8 L1682.0,1202.0 L1685.0,1202.2 L1688.0,1202.5 L1691.0,1202.7 L1694.0,1202.9 L1697.0,1203.1 L1700.0,1203.4 L1703.0,1203.6 L1706.0,1203.8 L1709.0,1204.1 L1712.0,1204.3 L1715.0,1204.5 L1718.0,1204.8 L1721.0,1205.0 L1724.0,1205.2 L1727.0,1205.4 L1730.0,1205.7 L1733.0,1205.9 L1736.0,1206.1 L1739.0,1206.3 L1742.0,1206.6 L1745.0,1206.8 L1748.0,1207.0 L1751.0,1207.3 L1754.0,1207.5 L1757.0,1207.7 L1760.0,1207.9 L1763.0,1208.2 L1766.0,1208.4 L1769.0,1208.6 L1772.0,1208.9 L1775.0,1209.1 L1778.0,1209.4 L1781.0,1209.6 L1784.0,1209.8 L1787.0,1210.1 L1790.0,1210.3 L1793.0,1210.6 L1796.0,1210.8 L1799.0,1211.1 L1802.0,1211.3 L1805.0,1211.6 L1808.0,1211.9 L1811.0,1212.1 L1814.0,1212.4 L1817.0,1212.7 L1820.0,1212.9 L1823.0,1213.2 L1826.0,1213.5 L1829.0,1213.8 L1832.0,1214.0 L1835.0,1214.3 L1838.0,1214.6 L1841.0,1214.9 L1844.0,1215.2 L1847.0,1215.5 L1850.0,1215.8 L1853.0,1216.1 L1856.0,1216.4 L1859.0,1216.8 L1862.0,1217.1 L1865.0,1217.4 L1868.0,1217.8 L1871.0,1218.1 L1874.0,1218.4 L1877.0,1218.8 L1880.0,1219.2 L1883.0,1219.5 L1886.0,1219.9 L1889.0,1220.3 L1892.0,1220.6 L1895.0,1221.0 L1898.0,1221.4 L1901.0,1221.8 L1904.0,1222.2 L1907.0,1222.6 L1910.0,1223.1 L1913.0,1223.5 L1916.0,1223.9 L1919.0,1224.4 L1922.0,1224.8 L1925.0,1225.3 L1928.0,1225.7 L1931.0,1226.2 L1934.0,1226.7 L1937.0,1227.2 L1940.0,1227.7 L1943.0,1228.2 L1946.0,1228.7 L1949.0,1229.2 L1952.0,1229.8 L1955.0,1230.3 L1964.0,1232.0" stroke="#0064ff" stroke-width="9.7"/>
<path d="M248.0,1181.9 L257.0,1178.3 L260.0,1177.2 L263.0,1175.9 L266.0,1174.5 L269.0,1173.1 L272.0,1171.6 L275.0,1170.0 L278.0,1168.4 L281.0,1166.6 L284.0,1164.8 L287.0,1162.9 L290.0,1160.9 L293.0,1158.9 L296.0,1156.8 L299.0,1154.6 L302.0,1152.4 L305.0,1150.1 L308.0,1147.7 L311.0,1145.2 L314.0,1142.7 L317.0,1140.2 L320.0,1137.5 L323.0,1134.8 L326.0,1132.1 L329.0,1129.3 L332.0,1126.4 L335.0,1123.5 L338.0,1120.5 L341.0,1117.4 L344.0,1114.4 L347.0,1111.2 L350.0,1108.0 L353.0,1104.8 L356.0,1101.5 L359.0,1098.1 L362.0,1094.7 L365.0,1091.3 L368.0,1087.8 L371.0,1084.3 L374.0,1080.8 L377.0,1077.2 L380.0,1073.5 L383.0,1069.8 L386.0,1066.1 L389.0,1062.3 L392.0,1058.6 L395.0,1054.7 L398.0,1050.9 L401.0,1047.0 L404.0,1043.1 L407.0,1039.1 L410.0,1035.1 L413.0,1031.1 L416.0,1027.1 L419.0,1023.0 L422.0,1018.9 L425.0,1014.8 L428.0,1010.7 L431.0,1006.5 L434.0,1002.4 L437.0,998.2 L440.0,994.0 L443.0,989.7 L446.0,985.5 L449.0,981.2 L452.0,977.0 L455.0,972.7 L458.0,968.4 L461.0,964.1 L464.0,959.8 L467.0,955.5 L470.0,951.1 L473.0,946.8 L476.0,942.5 L479.0,938.1 L482.0,933.8 L485.0,929.4 L488.0,925.1 L491.0,920.8 L494.0,916.4 L497.0,912.1 L500.0,907.7 L503.0,903.4 L506.0,899.1 L509.0,894.8 L512.0,890.5 L515.0,886.2 L518.0,881.9 L521.0,877.7 L524.0,873.5 L527.0,869.3 L530.0,865.1 L533.0,860.9 L536.0,856.8 L539.0,852.8 L542.0,848.7 L545.0,844.7 L548.0,840.8 L551.0,836.9 L554.0,833.0 L557.0,829.2 L560.0,825.4 L563.0,821.7 L566.0,818.1 L569.0,814.5 L572.0,811.0 L575.0,807.5 L578.0,804.1 L581.0,800.8 L584.0,797.5 L587.0,794.4 L590.0,791.3 L593.0,788.3 L596.0,785.4 L599.0,782.5 L602.0,779.8 L605.0,777.1 L608.0,774.5 L611.0,772.1 L614.0,769.7 L617.0,767.4 L620.0,765.3 L623.0,763.2 L626.0,761.0 L629.0,758.8 L632.0,756.7 L635.0,754.7 L638.0,752.8 L641.0,751.1 L644.0,749.4 L647.0,747.8 L650.0,746.4 L653.0,745.1 L656.0,743.9 L659.0,742.8 L662.0,741.9 L665.0,741.1 L668.0,740.5 L671.0,740.3 L674.0,740.2 L677.0,740.3 L680.0,740.5 L683.0,740.7 L686.0,741.1 L689.0,741.6 L692.0,742.2 L695.0,742.8 L698.0,743.6 L701.0,744.4 L704.0,745.3 L707.0,746.3 L710.0,747.4 L713.0,748.6 L716.0,749.8 L719.0,751.1 L722.0,752.4 L725.0,753.9 L728.0,755.3 L731.0,756.9 L734.0,758.4 L737.0,760.1 L740.0,761.8 L743.0,763.5 L746.0,765.3 L749.0,767.1 L752.0,769.0 L755.0,770.9 L758.0,772.9 L761.0,774.9 L764.0,776.9 L767.0,779.0 L770.0,781.1 L773.0,783.3 L776.0,785.5 L779.0,787.7 L782.0,790.0 L785.0,792.3 L788.0,794.6 L791.0,797.0 L794.0,799.4 L797.0,801.8 L800.0,804.3 L803.0,806.8 L806.0,809.3 L809.0,811.8 L812.0,814.3 L815.0,816.9 L818.0,819.5 L821.0,822.1 L824.0,824.7 L827.0,827.4 L830.0,830.0 L833.0,832.7 L836.0,835.4 L839.0,838.1 L842.0,840.8 L845.0,843.6 L848.0,846.3 L851.0,849.0 L854.0,851.8 L857.0,854.6 L860.0,857.3 L863.0,860.1 L866.0,862.9 L869.0,865.7 L872.0,868.5 L875.0,871.3 L878.0,874.1 L881.0,877.0 L884.0,879.8 L887.0,882.6 L890.0,885.4 L893.0,888.2 L896.0,891.1 L899.0,893.9 L902.0,896.7 L905.0,899.5 L908.0,902.3 L911.0,905.1 L914.0,907.9 L917.0,910.7 L920.0,913.5 L923.0,916.3 L926.0,919.1 L929.0,921.8 L932.0,924.6 L935.0,927.3 L938.0,930.1 L941.0,932.8 L944.0,935.5 L947.0,938.2 L950.0,940.9 L953.0,943.6 L956.0,946.2 L959.0,948.9 L962.0,951.6 L965.0,954.2 L968.0,956.9 L971.0,959.5 L974.0,962.1 L977.0,964.8 L980.0,967.3 L983.0,969.9 L986.0,972.5 L989.0,975.0 L992.0,977.5 L995.0,980.0 L998.0,982.5 L1001.0,984.9 L1004.0,987.3 L1007.0,989.6 L1010.0,991.8 L1013.0,994.1 L1016.0,996.4 L1019.0,998.6 L1022.0,1000.8 L1025.0,1003.0 L1028.0,1005.2 L1031.0,1007.4 L1034.0,1009.5 L1037.0,1011.7 L1040.0,1013.8 L1043.0,1015.9 L1046.0,1018.0 L1049.0,1020.1 L1052.0,1022.1 L1055.0,1024.2 L1058.0,1026.2 L1061.0,1028.2 L1064.0,1030.2 L1067.0,1032.2 L1070.0,1034.2 L1073.0,1036.2 L1076.0,1038.2 L1079.0,1040.1 L1082.0,1042.1 L1085.0,1044.0 L1088.0,1045.9 L1091.0,1047.8 L1094.0,1049.7 L1097.0,1051.5 L1100.0,1053.4 L1103.0,1055.2 L1106.0,1057.1 L1109.0,1058.9 L1112.0,1060.8 L1115.0,1062.6 L1118.0,1064.4 L1121.0,1066.3 L1124.0,1068.1 L1127.0,1069.9 L1130.0,1071.7 L1133.0,1073.5 L1136.0,1075.2 L1139.0,1077.0 L1142.0,1078.7 L1145.0,1080.5 L1148.0,1082.2 L1151.0,1083.9 L1154.0,1085.6 L1157.0,1087.3 L1160.0,1089.0 L1163.0,1090.8 L1166.0,1092.5 L1169.0,1094.2 L1172.0,1095.9 L1175.0,1097.5 L1178.0,1099.2 L1181.0,1100.8 L1184.0,1102.4 L1187.0,1104.0 L1190.0,1105.6 L1193.0,1107.1 L1196.0,1108.5 L1199.0,1110.0 L1202.0,1111.3 L1205.0,1112.7 L1208.0,1114.0 L1211.0,1115.4 L1214.0,1116.7 L1217.0,1118.0 L1220.0,1119.2 L1223.0,1120.5 L1226.0,1121.7 L1229.0,1123.0 L1232.0,1124.2 L1235.0,1125.4 L1238.0,1126.6 L1241.0,1127.7 L1244.0,1128.9 L1247.0,1130.1 L1250.0,1131.2 L1253.0,1132.3 L1256.0,1133.4 L1259.0,1134.5 L1262.0,1135.6 L1265.0,1136.6 L1268.0,1137.7 L1271.0,1138.7 L1274.0,1139.7 L1277.0,1140.8 L1280.0,1141.8 L1283.0,1142.8 L1286.0,1143.7 L1289.0,1144.7 L1292.0,1145.7 L1295.0,1146.7 L1298.0,1147.7 L1301.0,1148.7 L1304.0,1149.7 L1307.0,1150.7 L1310.0,1151.7 L1313.0,1152.6 L1316.0,1153.6 L1319.0,1154.5 L1322.0,1155.5 L1325.0,1156.4 L1328.0,1157.3 L1331.0,1158.2 L1334.0,1159.1 L1337.0,1160.0 L1340.0,1160.9 L1343.0,1161.7 L1346.0,1162.6 L1349.0,1163.4 L1352.0,1164.3 L1355.0,1165.1 L1358.0,1165.9 L1361.0,1166.7 L1364.0,1167.5 L1367.0,1168.3 L1370.0,1169.1 L1373.0,1169.9 L1376.0,1170.7 L1379.0,1171.4 L1382.0,1172.2 L1385.0,1172.9 L1388.0,1173.6 L1391.0,1174.4 L1394.0,1175.1 L1397.0,1175.8 L1400.0,1176.5 L1403.0,1177.2 L1406.0,1177.9 L1409.0,1178.5 L1412.0,1179.2 L1415.0,1179.8 L1418.0,1180.5 L1421.0,1181.1 L1424.0,1181.8 L1427.0,1182.4 L1430.0,1183.0 L1433.0,1183.6 L1436.0,1184.2 L1439.0,1184.8 L1442.0,1185.4 L1445.0,1186.0 L1448.0,1186.6 L1451.0,1187.1 L1454.0,1187.7 L1457.0,1188.3 L1460.0,1188.8 L1463.0,1189.3 L1466.0,1189.9 L1469.0,1190.4 L1472.0,1190.9 L1475.0,1191.4 L1478.0,1191.9 L1481.0,1192.4 L1484.0,1192.9 L1487.0,1193.4 L1490.0,1193.9 L1493.0,1194.4 L1496.0,1194.8 L1499.0,1195.3 L1502.0,1195.7 L1505.0,1196.2 L1508.0,1196.6 L1511.0,1197.1 L1514.0,1197.5 L1517.0,1197.9 L1520.0,1198.3 L1523.0,1198.7 L1526.0,1199.1 L1529.0,1199.5 L1532.0,1199.9 L1535.0,1200.3 L1538.0,1200.7 L1541.0,1201.1 L1544.0,1201.5 L1547.0,1201.8 L1550.0,1202.2 L1553.0,1202.6 L1556.0,1202.9 L1559.0,1203.3 L1562.0,1203.6 L1565.0,1204.0 L1568.0,1204.3 L1571.0,1204.6 L1574.0,1204.9 L1577.0,1205.3 L1580.0,1205.6 L1583.0,1205.9 L1586.0,1206.2 L1589.0,1206.5 L1592.0,1206.8 L1595.0,1207.1 L1598.0,1207.4 L1601.0,1207.7 L1604.0,1208.0 L1607.0,1208.2 L1610.0,1208.5 L1613.0,1208.8 L1616.0,1209.1 L1619.0,1209.3 L1622.0,1209.6 L1625.0,1209.8 L1628.0,1210.0 L1631.0,1210.2 L1634.0,1210.4 L1637.0,1210.6 L1640.0,1210.7 L1643.0,1210.9 L1646.0,1211.0 L1649.0,1211.1 L1652.0,1211.2 L1655.0,1211.4 L1658.0,1211.5 L1661.0,1211.6 L1664.0,1211.8 L1667.0,1211.9 L1670.0,1212.0 L1673.0,1212.1 L1676.0,1212.2 L1679.0,1212.3 L1682.0,1212.4 L1685.0,1212.5 L1688.0,1212.7 L1691.0,1212.8 L1694.0,1212.9 L1697.0,1213.1 L1700.0,1213.3 L1703.0,1213.5 L1706.0,1213.7 L1709.0,1213.8 L1712.0,1214.0 L1715.0,1214.2 L1718.0,1214.4 L1721.0,1214.6 L1724.0,1214.8 L1727.0,1215.0 L1730.0,1215.2 L1733.0,1215.4 L1736.0,1215.6 L1739.0,1215.8 L1742.0,1216.0 L1745.0,1216.2 L1748.0,1216.4 L1751.0,1216.6 L1754.0,1216.8 L1757.0,1217.0 L1760.0,1217.2 L1763.0,1217.4 L1766.0,1217.6 L1769.0,1217.8 L1772.0,1218.0 L1775.0,1218.2 L1778.0,1218.4 L1781.0,1218.6 L1784.0,1218.8 L1787.0,1219.0 L1790.0,1219.1 L1793.0,1219.3 L1796.0,1219.5 L1799.0,1219.7 L1802.0,1219.9 L1805.0,1220.1 L1808.0,1220.2 L1811.0,1220.4 L1814.0,1220.6 L1817.0,1220.7 L1820.0,1220.9 L1823.0,1221.1 L1826.0,1221.2 L1829.0,1221.4 L1832.0,1221.5 L1835.0,1221.7 L1838.0,1221.9 L1841.0,1222.0 L1844.0,1222.2 L1847.0,1222.3 L1850.0,1222.5 L1853.0,1222.6 L1856.0,1222.8 L1859.0,1222.9 L1862.0,1223.1 L1865.0,1223.2 L1868.0,1223.3 L1871.0,1223.5 L1874.0,1223.6 L1877.0,1223.8 L1880.0,1223.9 L1883.0,1224.1 L1886.0,1224.2 L1889.0,1224.3 L1892.0,1224.5 L1895.0,1224.6 L1898.0,1224.8 L1901.0,1224.9 L1904.0,1225.1 L1907.0,1225.2 L1910.0,1225.4 L1913.0,1225.5 L1916.0,1225.7 L1919.0,1225.8 L1922.0,1226.0 L1925.0,1226.1 L1928.0,1226.3 L1931.0,1226.4 L1934.0,1226.6 L1937.0,1226.7 L1940.0,1226.9 L1943.0,1227.1 L1946.0,1227.2 L1949.0,1227.4 L1952.0,1227.6 L1955.0,1227.8 L1964.0,1228.3" stroke="#00e9ff" stroke-width="9.7"/>
<path d="M248.0,1195.1 L257.0,1189.2 L260.0,1187.2 L263.0,1185.2 L266.0,1183.2 L269.0,1181.1 L272.0,1179.0 L275.0,1176.9 L278.0,1174.7 L281.0,1172.5 L284.0,1170.3 L287.0,1168.0 L290.0,1165.6 L293.0,1163.3 L296.0,1160.9 L299.0,1158.4 L302.0,1155.9 L305.0,1153.4 L308.0,1150.8 L311.0,1148.1 L314.0,1145.5 L317.0,1142.7 L320.0,1140.0 L323.0,1137.2 L326.0,1134.3 L329.0,1131.4 L332.0,1128.4 L335.0,1125.4 L338.0,1122.3 L341.0,1119.2 L344.0,1116.0 L347.0,1112.8 L350.0,1109.5 L353.0,1106.1 L356.0,1102.7 L359.0,1099.3 L362.0,1095.7 L365.0,1092.2 L368.0,1088.5 L371.0,1084.8 L374.0,1081.1 L377.0,1077.3 L380.0,1073.4 L383.0,1069.4 L386.0,1065.4 L389.0,1061.3 L392.0,1057.2 L395.0,1053.0 L398.0,1048.7 L401.0,1044.3 L404.0,1039.8 L407.0,1035.3 L410.0,1030.6 L413.0,1025.9 L416.0,1021.1 L419.0,1016.2 L422.0,1011.2 L425.0,1006.1 L428.0,1000.9 L431.0,995.6 L434.0,990.2 L437.0,984.8 L440.0,979.2 L443.0,973.6 L446.0,967.9 L449.0,962.1 L452.0,956.3 L455.0,950.4 L458.0,944.4 L461.0,938.4 L464.0,932.4 L467.0,926.3 L470.0,920.2 L473.0,914.1 L476.0,908.0 L479.0,901.8 L482.0,895.7 L485.0,889.5 L488.0,883.4 L491.0,877.2 L494.0,871.1 L497.0,865.0 L500.0,858.9 L503.0,852.8 L506.0,846.8 L509.0,840.8 L512.0,834.8 L515.0,828.9 L518.0,823.0 L521.0,817.1 L524.0,811.3 L527.0,805.5 L530.0,799.8 L533.0,794.0 L536.0,788.3 L539.0,782.7 L542.0,777.1 L545.0,771.5 L548.0,765.9 L551.0,760.4 L554.0,754.9 L557.0,749.5 L560.0,744.0 L563.0,738.6 L566.0,733.3 L569.0,728.0 L572.0,722.7 L575.0,717.4 L578.0,712.2 L581.0,707.0 L584.0,701.8 L587.0,696.7 L590.0,691.6 L593.0,686.6 L596.0,681.5 L599.0,676.6 L602.0,671.6 L605.0,666.7 L608.0,661.9 L611.0,657.2 L614.0,652.5 L617.0,648.0 L620.0,643.5 L623.0,639.2 L626.0,634.9 L629.0,630.7 L632.0,626.6 L635.0,622.6 L638.0,618.7 L641.0,615.0 L644.0,611.4 L647.0,608.0 L650.0,604.8 L653.0,601.8 L656.0,599.0 L659.0,596.4 L662.0,594.0 L665.0,591.9 L668.0,590.0 L671.0,588.7 L674.0,587.6 L677.0,586.7 L680.0,586.1 L683.0,585.7 L686.0,585.6 L689.0,585.7 L692.0,586.0 L695.0,586.6 L698.0,587.2 L701.0,588.0 L704.0,588.8 L707.0,589.5 L710.0,590.2 L713.0,590.8 L716.0,591.4 L719.0,591.9 L722.0,592.4 L725.0,592.9 L728.0,593.5 L731.0,594.2 L734.0,595.1 L737.0,596.2 L740.0,597.4 L743.0,598.9 L746.0,600.5 L749.0,602.3 L752.0,604.3 L755.0,606.4 L758.0,608.5 L761.0,610.8 L764.0,613.2 L767.0,615.7 L770.0,618.2 L773.0,620.7 L776.0,623.3 L779.0,625.9 L782.0,628.5 L785.0,631.0 L788.0,633.6 L791.0,636.0 L794.0,638.4 L797.0,640.8 L800.0,643.2 L803.0,645.6 L806.0,648.1 L809.0,650.5 L812.0,653.1 L815.0,655.8 L818.0,658.5 L821.0,661.4 L824.0,664.4 L827.0,667.5 L830.0,670.8 L833.0,674.1 L836.0,677.6 L839.0,681.2 L842.0,684.9 L845.0,688.7 L848.0,692.6 L851.0,696.5 L854.0,700.3 L857.0,704.2 L860.0,708.1 L863.0,712.0 L866.0,716.1 L869.0,720.1 L872.0,724.2 L875.0,728.3 L878.0,732.5 L881.0,736.6 L884.0,740.7 L887.0,744.8 L890.0,748.9 L893.0,752.9 L896.0,757.0 L899.0,760.9 L902.0,764.9 L905.0,768.8 L908.0,772.6 L911.0,776.4 L914.0,780.2 L917.0,784.0 L920.0,787.7 L923.0,791.5 L926.0,795.2 L929.0,798.9 L932.0,802.5 L935.0,806.2 L938.0,809.8 L941.0,813.4 L944.0,817.0 L947.0,820.5 L950.0,824.0 L953.0,827.5 L956.0,831.0 L959.0,834.4 L962.0,837.7 L965.0,841.0 L968.0,844.2 L971.0,847.5 L974.0,850.7 L977.0,853.9 L980.0,857.2 L983.0,860.4 L986.0,863.6 L989.0,866.9 L992.0,870.1 L995.0,873.4 L998.0,876.6 L1001.0,879.9 L1004.0,883.2 L1007.0,886.5 L1010.0,889.8 L1013.0,893.2 L1016.0,896.5 L1019.0,899.9 L1022.0,903.3 L1025.0,906.7 L1028.0,910.0 L1031.0,913.4 L1034.0,916.8 L1037.0,920.1 L1040.0,923.4 L1043.0,926.7 L1046.0,930.0 L1049.0,933.3 L1052.0,936.5 L1055.0,939.6 L1058.0,942.8 L1061.0,946.0 L1064.0,949.2 L1067.0,952.4 L1070.0,955.5 L1073.0,958.6 L1076.0,961.7 L1079.0,964.8 L1082.0,967.8 L1085.0,970.7 L1088.0,973.6 L1091.0,976.4 L1094.0,979.2 L1097.0,981.9 L1100.0,984.5 L1103.0,987.1 L1106.0,989.6 L1109.0,992.0 L1112.0,994.4 L1115.0,996.7 L1118.0,999.0 L1121.0,1001.3 L1124.0,1003.5 L1127.0,1005.6 L1130.0,1007.8 L1133.0,1009.9 L1136.0,1011.9 L1139.0,1014.0 L1142.0,1016.0 L1145.0,1018.0 L1148.0,1019.9 L1151.0,1021.9 L1154.0,1023.8 L1157.0,1025.5 L1160.0,1027.2 L1163.0,1028.8 L1166.0,1030.4 L1169.0,1031.9 L1172.0,1033.4 L1175.0,1034.8 L1178.0,1036.3 L1181.0,1037.7 L1184.0,1039.2 L1187.0,1040.7 L1190.0,1042.2 L1193.0,1043.8 L1196.0,1045.5 L1199.0,1047.2 L1202.0,1049.0 L1205.0,1050.8 L1208.0,1052.6 L1211.0,1054.4 L1214.0,1056.2 L1217.0,1058.0 L1220.0,1059.7 L1223.0,1061.5 L1226.0,1063.2 L1229.0,1064.9 L1232.0,1066.7 L1235.0,1068.4 L1238.0,1070.1 L1241.0,1071.8 L1244.0,1073.5 L1247.0,1075.2 L1250.0,1076.9 L1253.0,1078.7 L1256.0,1080.4 L1259.0,1082.2 L1262.0,1084.1 L1265.0,1085.9 L1268.0,1087.8 L1271.0,1089.6 L1274.0,1091.5 L1277.0,1093.4 L1280.0,1095.2 L1283.0,1097.1 L1286.0,1098.9 L1289.0,1100.6 L1292.0,1102.3 L1295.0,1104.0 L1298.0,1105.6 L1301.0,1107.2 L1304.0,1108.7 L1307.0,1110.2 L1310.0,1111.7 L1313.0,1113.2 L1316.0,1114.7 L1319.0,1116.1 L1322.0,1117.6 L1325.0,1119.0 L1328.0,1120.4 L1331.0,1121.7 L1334.0,1123.1 L1337.0,1124.4 L1340.0,1125.7 L1343.0,1127.0 L1346.0,1128.3 L1349.0,1129.5 L1352.0,1130.7 L1355.0,1131.9 L1358.0,1133.1 L1361.0,1134.3 L1364.0,1135.5 L1367.0,1136.6 L1370.0,1137.8 L1373.0,1138.9 L1376.0,1140.0 L1379.0,1141.1 L1382.0,1142.2 L1385.0,1143.3 L1388.0,1144.4 L1391.0,1145.5 L1394.0,1146.5 L1397.0,1147.5 L1400.0,1148.6 L1403.0,1149.6 L1406.0,1150.6 L1409.0,1151.6 L1412.0,1152.5 L1415.0,1153.5 L1418.0,1154.5 L1421.0,1155.4 L1424.0,1156.3 L1427.0,1157.3 L1430.0,1158.2 L1433.0,1159.1 L1436.0,1160.0 L1439.0,1160.8 L1442.0,1161.7 L1445.0,1162.6 L1448.0,1163.4 L1451.0,1164.2 L1454.0,1165.1 L1457.0,1165.9 L1460.0,1166.7 L1463.0,1167.5 L1466.0,1168.3 L1469.0,1169.1 L1472.0,1169.8 L1475.0,1170.6 L1478.0,1171.3 L1481.0,1172.1 L1484.0,1172.8 L1487.0,1173.5 L1490.0,1174.2 L1493.0,1174.9 L1496.0,1175.6 L1499.0,1176.3 L1502.0,1177.0 L1505.0,1177.7 L1508.0,1178.3 L1511.0,1179.0 L1514.0,1179.6 L1517.0,1180.2 L1520.0,1180.9 L1523.0,1181.5 L1526.0,1182.1 L1529.0,1182.7 L1532.0,1183.3 L1535.0,1183.8 L1538.0,1184.4 L1541.0,1185.0 L1544.0,1185.5 L1547.0,1186.1 L1550.0,1186.6 L1553.0,1187.2 L1556.0,1187.7 L1559.0,1188.2 L1562.0,1188.7 L1565.0,1189.3 L1568.0,1189.8 L1571.0,1190.2 L1574.0,1190.7 L1577.0,1191.2 L1580.0,1191.7 L1583.0,1192.2 L1586.0,1192.6 L1589.0,1193.1 L1592.0,1193.5 L1595.0,1194.0 L1598.0,1194.4 L1601.0,1194.8 L1604.0,1195.2 L1607.0,1195.7 L1610.0,1196.1 L1613.0,1196.5 L1616.0,1196.9 L1619.0,1197.3 L1622.0,1197.6 L1625.0,1198.0 L1628.0,1198.4 L1631.0,1198.8 L1634.0,1199.1 L1637.0,1199.5 L1640.0,1199.9 L1643.0,1200.2 L1646.0,1200.6 L1649.0,1200.9 L1652.0,1201.2 L1655.0,1201.6 L1658.0,1201.9 L1661.0,1202.2 L1664.0,1202.5 L1667.0,1202.9 L1670.0,1203.2 L1673.0,1203.5 L1676.0,1203.8 L1679.0,1204.1 L1682.0,1204.4 L1685.0,1204.6 L1688.0,1204.9 L1691.0,1205.2 L1694.0,1205.5 L1697.0,1205.8 L1700.0,1206.0 L1703.0,1206.3 L1706.0,1206.6 L1709.0,1206.8 L1712.0,1207.1 L1715.0,1207.4 L1718.0,1207.6 L1721.0,1207.9 L1724.0,1208.1 L1727.0,1208.4 L1730.0,1208.6 L1733.0,1208.8 L1736.0,1209.1 L1739.0,1209.3 L1742.0,1209.5 L1745.0,1209.8 L1748.0,1210.0 L1751.0,1210.2 L1754.0,1210.4 L1757.0,1210.7 L1760.0,1210.9 L1763.0,1211.1 L1766.0,1211.3 L1769.0,1211.5 L1772.0,1211.8 L1775.0,1212.0 L1778.0,1212.2 L1781.0,1212.4 L1784.0,1212.6 L1787.0,1212.8 L1790.0,1213.0 L1793.0,1213.2 L1796.0,1213.4 L1799.0,1213.6 L1802.0,1213.8 L1805.0,1214.0 L1808.0,1214.3 L1811.0,1214.5 L1814.0,1214.7 L1817.0,1214.9 L1820.0,1215.1 L1823.0,1215.3 L1826.0,1215.5 L1829.0,1215.7 L1832.0,1215.9 L1835.0,1216.1 L1838.0,1216.3 L1841.0,1216.5 L1844.0,1216.7 L1847.0,1216.9 L1850.0,1217.1 L1853.0,1217.3 L1856.0,1217.5 L1859.0,1217.7 L1862.0,1217.9 L1865.0,1218.2 L1868.0,1218.4 L1871.0,1218.6 L1874.0,1218.8 L1877.0,1219.0 L1880.0,1219.2 L1883.0,1219.5 L1886.0,1219.7 L1889.0,1219.9 L1892.0,1220.1 L1895.0,1220.4 L1898.0,1220.6 L1901.0,1220.8 L1904.0,1221.0 L1907.0,1221.3 L1910.0,1221.5 L1913.0,1221.8 L1916.0,1222.0 L1919.0,1222.3 L1922.0,1222.5 L1925.0,1222.8 L1928.0,1223.0 L1931.0,1223.3 L1934.0,1223.5 L1937.0,1223.8 L1940.0,1224.1 L1943.0,1224.3 L1946.0,1224.6 L1949.0,1224.9 L1952.0,1225.2 L1955.0,1225.4 L1964.0,1226.3" stroke="#6bff8c" stroke-width="9.7"/>
<path d="M248.0,1183.4 L257.0,1178.9 L260.0,1177.4 L263.0,1175.9 L266.0,1174.3 L269.0,1172.6 L272.0,1170.9 L275.0,1169.2 L278.0,1167.3 L281.0,1165.5 L284.0,1163.5 L287.0,1161.5 L290.0,1159.5 L293.0,1157.4 L296.0,1155.3 L299.0,1153.1 L302.0,1150.8 L305.0,1148.5 L308.0,1146.1 L311.0,1143.7 L314.0,1141.3 L317.0,1138.7 L320.0,1136.2 L323.0,1133.5 L326.0,1130.9 L329.0,1128.1 L332.0,1125.4 L335.0,1122.5 L338.0,1119.7 L341.0,1116.7 L344.0,1113.7 L347.0,1110.7 L350.0,1107.6 L353.0,1104.5 L356.0,1101.3 L359.0,1098.0 L362.0,1094.7 L365.0,1091.4 L368.0,1088.0 L371.0,1084.6 L374.0,1081.1 L377.0,1077.5 L380.0,1073.9 L383.0,1070.3 L386.0,1066.6 L389.0,1062.8 L392.0,1059.0 L395.0,1055.2 L398.0,1051.3 L401.0,1047.4 L404.0,1043.4 L407.0,1039.3 L410.0,1035.2 L413.0,1031.1 L416.0,1026.9 L419.0,1022.7 L422.0,1018.4 L425.0,1014.1 L428.0,1009.7 L431.0,1005.2 L434.0,1000.8 L437.0,996.2 L440.0,991.7 L443.0,987.1 L446.0,982.4 L449.0,977.7 L452.0,972.9 L455.0,968.1 L458.0,963.3 L461.0,958.3 L464.0,953.4 L467.0,948.4 L470.0,943.4 L473.0,938.3 L476.0,933.1 L479.0,928.0 L482.0,922.7 L485.0,917.5 L488.0,912.2 L491.0,906.8 L494.0,901.4 L497.0,895.9 L500.0,890.4 L503.0,884.9 L506.0,879.3 L509.0,873.7 L512.0,868.0 L515.0,862.3 L518.0,856.6 L521.0,850.9 L524.0,845.1 L527.0,839.3 L530.0,833.5 L533.0,827.7 L536.0,821.9 L539.0,816.1 L542.0,810.3 L545.0,804.5 L548.0,798.7 L551.0,793.0 L554.0,787.2 L557.0,781.5 L560.0,775.8 L563.0,770.2 L566.0,764.5 L569.0,759.0 L572.0,753.4 L575.0,748.0 L578.0,742.5 L581.0,737.2 L584.0,731.8 L587.0,726.6 L590.0,721.4 L593.0,716.3 L596.0,711.3 L599.0,706.4 L602.0,701.6 L605.0,696.9 L608.0,692.3 L611.0,687.9 L614.0,683.5 L617.0,679.4 L620.0,675.3 L623.0,671.5 L626.0,667.8 L629.0,664.3 L632.0,660.8 L635.0,657.5 L638.0,654.3 L641.0,651.2 L644.0,648.3 L647.0,645.4 L650.0,642.8 L653.0,640.3 L656.0,637.9 L659.0,635.7 L662.0,633.7 L665.0,631.8 L668.0,630.2 L671.0,629.0 L674.0,628.0 L677.0,627.2 L680.0,626.6 L683.0,626.2 L686.0,626.0 L689.0,626.0 L692.0,626.2 L695.0,626.5 L698.0,627.0 L701.0,627.6 L704.0,628.4 L707.0,629.3 L710.0,630.2 L713.0,631.3 L716.0,632.5 L719.0,633.7 L722.0,635.0 L725.0,636.3 L728.0,637.7 L731.0,639.1 L734.0,640.5 L737.0,642.0 L740.0,643.5 L743.0,645.1 L746.0,646.7 L749.0,648.3 L752.0,650.0 L755.0,651.8 L758.0,653.6 L761.0,655.5 L764.0,657.4 L767.0,659.4 L770.0,661.5 L773.0,663.7 L776.0,665.9 L779.0,668.2 L782.0,670.6 L785.0,673.1 L788.0,675.7 L791.0,678.3 L794.0,681.0 L797.0,683.8 L800.0,686.7 L803.0,689.6 L806.0,692.5 L809.0,695.6 L812.0,698.6 L815.0,701.7 L818.0,704.9 L821.0,708.1 L824.0,711.3 L827.0,714.6 L830.0,717.9 L833.0,721.2 L836.0,724.5 L839.0,727.9 L842.0,731.2 L845.0,734.6 L848.0,738.0 L851.0,741.4 L854.0,744.7 L857.0,748.1 L860.0,751.5 L863.0,754.9 L866.0,758.2 L869.0,761.6 L872.0,764.9 L875.0,768.2 L878.0,771.4 L881.0,774.7 L884.0,777.9 L887.0,781.1 L890.0,784.3 L893.0,787.5 L896.0,790.6 L899.0,793.8 L902.0,797.0 L905.0,800.2 L908.0,803.4 L911.0,806.6 L914.0,809.8 L917.0,813.0 L920.0,816.3 L923.0,819.6 L926.0,822.9 L929.0,826.3 L932.0,829.6 L935.0,833.0 L938.0,836.4 L941.0,839.8 L944.0,843.3 L947.0,846.7 L950.0,850.2 L953.0,853.6 L956.0,857.1 L959.0,860.5 L962.0,863.9 L965.0,867.3 L968.0,870.7 L971.0,874.0 L974.0,877.3 L977.0,880.6 L980.0,883.9 L983.0,887.1 L986.0,890.3 L989.0,893.5 L992.0,896.6 L995.0,899.8 L998.0,902.9 L1001.0,906.0 L1004.0,909.3 L1007.0,912.6 L1010.0,915.8 L1013.0,919.0 L1016.0,922.2 L1019.0,925.4 L1022.0,928.6 L1025.0,931.7 L1028.0,934.8 L1031.0,938.0 L1034.0,941.1 L1037.0,944.2 L1040.0,947.3 L1043.0,950.4 L1046.0,953.5 L1049.0,956.6 L1052.0,959.8 L1055.0,962.9 L1058.0,966.1 L1061.0,969.3 L1064.0,972.5 L1067.0,975.6 L1070.0,978.8 L1073.0,981.9 L1076.0,984.9 L1079.0,988.0 L1082.0,991.0 L1085.0,993.9 L1088.0,996.8 L1091.0,999.6 L1094.0,1002.3 L1097.0,1005.0 L1100.0,1007.6 L1103.0,1010.1 L1106.0,1012.5 L1109.0,1014.8 L1112.0,1017.1 L1115.0,1019.3 L1118.0,1021.4 L1121.0,1023.6 L1124.0,1025.6 L1127.0,1027.7 L1130.0,1029.7 L1133.0,1031.7 L1136.0,1033.7 L1139.0,1035.8 L1142.0,1037.8 L1145.0,1039.8 L1148.0,1041.9 L1151.0,1044.0 L1154.0,1046.1 L1157.0,1048.2 L1160.0,1050.3 L1163.0,1052.3 L1166.0,1054.3 L1169.0,1056.3 L1172.0,1058.2 L1175.0,1060.2 L1178.0,1062.1 L1181.0,1064.0 L1184.0,1065.9 L1187.0,1067.7 L1190.0,1069.6 L1193.0,1071.4 L1196.0,1073.2 L1199.0,1074.9 L1202.0,1076.7 L1205.0,1078.3 L1208.0,1079.8 L1211.0,1081.2 L1214.0,1082.5 L1217.0,1083.7 L1220.0,1084.9 L1223.0,1086.0 L1226.0,1087.1 L1229.0,1088.2 L1232.0,1089.3 L1235.0,1090.4 L1238.0,1091.6 L1241.0,1092.8 L1244.0,1094.0 L1247.0,1095.3 L1250.0,1096.7 L1253.0,1098.2 L1256.0,1099.7 L1259.0,1101.2 L1262.0,1102.7 L1265.0,1104.2 L1268.0,1105.8 L1271.0,1107.3 L1274.0,1108.9 L1277.0,1110.4 L1280.0,1111.9 L1283.0,1113.4 L1286.0,1114.8 L1289.0,1116.2 L1292.0,1117.6 L1295.0,1118.9 L1298.0,1120.1 L1301.0,1121.3 L1304.0,1122.5 L1307.0,1123.6 L1310.0,1124.8 L1313.0,1125.9 L1316.0,1127.0 L1319.0,1128.1 L1322.0,1129.1 L1325.0,1130.2 L1328.0,1131.2 L1331.0,1132.2 L1334.0,1133.2 L1337.0,1134.2 L1340.0,1135.1 L1343.0,1136.1 L1346.0,1137.0 L1349.0,1138.0 L1352.0,1138.9 L1355.0,1139.8 L1358.0,1140.6 L1361.0,1141.5 L1364.0,1142.3 L1367.0,1143.1 L1370.0,1143.9 L1373.0,1144.6 L1376.0,1145.4 L1379.0,1146.1 L1382.0,1146.8 L1385.0,1147.5 L1388.0,1148.2 L1391.0,1148.9 L1394.0,1149.5 L1397.0,1150.2 L1400.0,1150.8 L1403.0,1151.6 L1406.0,1152.4 L1409.0,1153.2 L1412.0,1154.0 L1415.0,1154.8 L1418.0,1155.6 L1421.0,1156.4 L1424.0,1157.1 L1427.0,1157.9 L1430.0,1158.7 L1433.0,1159.4 L1436.0,1160.2 L1439.0,1160.9 L1442.0,1161.7 L1445.0,1162.4 L1448.0,1163.1 L1451.0,1163.8 L1454.0,1164.5 L1457.0,1165.3 L1460.0,1166.0 L1463.0,1166.7 L1466.0,1167.4 L1469.0,1168.1 L1472.0,1168.7 L1475.0,1169.4 L1478.0,1170.1 L1481.0,1170.8 L1484.0,1171.5 L1487.0,1172.1 L1490.0,1172.8 L1493.0,1173.4 L1496.0,1174.1 L1499.0,1174.7 L1502.0,1175.4 L1505.0,1176.0 L1508.0,1176.6 L1511.0,1177.3 L1514.0,1177.9 L1517.0,1178.5 L1520.0,1179.1 L1523.0,1179.7 L1526.0,1180.3 L1529.0,1180.9 L1532.0,1181.5 L1535.0,1182.1 L1538.0,1182.7 L1541.0,1183.3 L1544.0,1183.8 L1547.0,1184.4 L1550.0,1185.0 L1553.0,1185.5 L1556.0,1186.1 L1559.0,1186.7 L1562.0,1187.2 L1565.0,1187.7 L1568.0,1188.3 L1571.0,1188.8 L1574.0,1189.3 L1577.0,1189.9 L1580.0,1190.4 L1583.0,1190.9 L1586.0,1191.4 L1589.0,1191.9 L1592.0,1192.4 L1595.0,1192.9 L1598.0,1193.4 L1601.0,1193.9 L1604.0,1194.4 L1607.0,1194.9 L1610.0,1195.3 L1613.0,1195.8 L1616.0,1196.3 L1619.0,1196.7 L1622.0,1197.2 L1625.0,1197.7 L1628.0,1198.1 L1631.0,1198.6 L1634.0,1199.0 L1637.0,1199.4 L1640.0,1199.9 L1643.0,1200.3 L1646.0,1200.7 L1649.0,1201.1 L1652.0,1201.5 L1655.0,1202.0 L1658.0,1202.4 L1661.0,1202.8 L1664.0,1203.2 L1667.0,1203.5 L1670.0,1203.9 L1673.0,1204.3 L1676.0,1204.7 L1679.0,1205.1 L1682.0,1205.4 L1685.0,1205.8 L1688.0,1206.2 L1691.0,1206.5 L1694.0,1206.9 L1697.0,1207.2 L1700.0,1207.6 L1703.0,1207.9 L1706.0,1208.3 L1709.0,1208.6 L1712.0,1208.9 L1715.0,1209.2 L1718.0,1209.6 L1721.0,1209.9 L1724.0,1210.2 L1727.0,1210.5 L1730.0,1210.8 L1733.0,1211.1 L1736.0,1211.4 L1739.0,1211.7 L1742.0,1212.0 L1745.0,1212.3 L1748.0,1212.5 L1751.0,1212.8 L1754.0,1213.1 L1757.0,1213.4 L1760.0,1213.6 L1763.0,1213.9 L1766.0,1214.1 L1769.0,1214.4 L1772.0,1214.6 L1775.0,1214.9 L1778.0,1215.1 L1781.0,1215.3 L1784.0,1215.6 L1787.0,1215.8 L1790.0,1216.0 L1793.0,1216.2 L1796.0,1216.5 L1799.0,1216.7 L1802.0,1216.9 L1805.0,1217.1 L1808.0,1217.3 L1811.0,1217.5 L1814.0,1217.7 L1817.0,1217.8 L1820.0,1218.0 L1823.0,1218.2 L1826.0,1218.4 L1829.0,1218.6 L1832.0,1218.7 L1835.0,1218.9 L1838.0,1219.0 L1841.0,1219.2 L1844.0,1219.4 L1847.0,1219.5 L1850.0,1219.6 L1853.0,1219.8 L1856.0,1219.9 L1859.0,1220.1 L1862.0,1220.2 L1865.0,1220.3 L1868.0,1220.4 L1871.0,1220.5 L1874.0,1220.7 L1877.0,1220.8 L1880.0,1220.9 L1883.0,1221.0 L1886.0,1221.1 L1889.0,1221.2 L1892.0,1221.3 L1895.0,1221.4 L1898.0,1221.4 L1901.0,1221.5 L1904.0,1221.6 L1907.0,1221.7 L1910.0,1221.7 L1913.0,1221.8 L1916.0,1221.9 L1919.0,1221.9 L1922.0,1222.0 L1925.0,1222.0 L1928.0,1222.1 L1931.0,1222.1 L1934.0,1222.2 L1937.0,1222.2 L1940.0,1222.2 L1943.0,1222.3 L1946.0,1222.3 L1949.0,1222.3 L1952.0,1222.3 L1955.0,1222.3 L1964.0,1222.4" stroke="#ffff00" stroke-width="9.7"/>
<path d="M248.0,1175.2 L257.0,1170.9 L260.0,1169.5 L263.0,1167.9 L266.0,1166.3 L269.0,1164.5 L272.0,1162.6 L275.0,1160.7 L278.0,1158.6 L281.0,1156.4 L284.0,1154.1 L287.0,1151.7 L290.0,1149.2 L293.0,1146.6 L296.0,1143.8 L299.0,1141.0 L302.0,1138.0 L305.0,1135.0 L308.0,1131.8 L311.0,1128.5 L314.0,1125.1 L317.0,1121.6 L320.0,1118.0 L323.0,1114.3 L326.0,1110.5 L329.0,1106.5 L332.0,1102.5 L335.0,1098.3 L338.0,1094.0 L341.0,1089.6 L344.0,1085.1 L347.0,1080.5 L350.0,1075.8 L353.0,1070.9 L356.0,1065.9 L359.0,1060.9 L362.0,1055.7 L365.0,1050.4 L368.0,1044.9 L371.0,1039.4 L374.0,1033.8 L377.0,1028.0 L380.0,1022.2 L383.0,1016.2 L386.0,1010.2 L389.0,1004.0 L392.0,997.8 L395.0,991.5 L398.0,985.1 L401.0,978.6 L404.0,972.1 L407.0,965.5 L410.0,958.8 L413.0,952.1 L416.0,945.3 L419.0,938.4 L422.0,931.5 L425.0,924.6 L428.0,917.6 L431.0,910.6 L434.0,903.5 L437.0,896.4 L440.0,889.3 L443.0,882.1 L446.0,875.0 L449.0,867.8 L452.0,860.6 L455.0,853.3 L458.0,846.1 L461.0,838.9 L464.0,831.7 L467.0,824.4 L470.0,817.2 L473.0,810.0 L476.0,802.8 L479.0,795.7 L482.0,788.5 L485.0,781.4 L488.0,774.3 L491.0,767.3 L494.0,760.2 L497.0,753.3 L500.0,746.3 L503.0,739.4 L506.0,732.6 L509.0,725.8 L512.0,719.1 L515.0,712.4 L518.0,705.8 L521.0,699.2 L524.0,692.7 L527.0,686.2 L530.0,679.7 L533.0,673.3 L536.0,666.9 L539.0,660.6 L542.0,654.3 L545.0,648.0 L548.0,641.7 L551.0,635.4 L554.0,629.2 L557.0,623.0 L560.0,616.7 L563.0,610.5 L566.0,604.3 L569.0,598.1 L572.0,592.0 L575.0,585.8 L578.0,579.6 L581.0,573.4 L584.0,567.2 L587.0,561.0 L590.0,554.8 L593.0,548.6 L596.0,542.5 L599.0,536.5 L602.0,530.5 L605.0,524.6 L608.0,518.8 L611.0,513.2 L614.0,507.6 L617.0,502.2 L620.0,497.0 L623.0,492.0 L626.0,486.8 L629.0,481.9 L632.0,477.1 L635.0,472.5 L638.0,468.1 L641.0,464.0 L644.0,460.2 L647.0,456.7 L650.0,453.6 L653.0,450.8 L656.0,448.4 L659.0,446.3 L662.0,444.6 L665.0,443.3 L668.0,442.3 L671.0,441.7 L674.0,441.3 L677.0,441.2 L680.0,441.2 L683.0,441.4 L686.0,441.7 L689.0,442.2 L692.0,442.8 L695.0,443.5 L698.0,444.3 L701.0,445.1 L704.0,446.0 L707.0,447.0 L710.0,448.0 L713.0,449.1 L716.0,450.3 L719.0,451.5 L722.0,452.9 L725.0,454.4 L728.0,456.0 L731.0,457.7 L734.0,459.6 L737.0,461.6 L740.0,463.8 L743.0,466.1 L746.0,468.7 L749.0,471.3 L752.0,474.2 L755.0,477.2 L758.0,480.4 L761.0,483.7 L764.0,487.2 L767.0,490.7 L770.0,494.4 L773.0,498.1 L776.0,502.0 L779.0,505.9 L782.0,509.9 L785.0,513.9 L788.0,517.9 L791.0,522.0 L794.0,526.2 L797.0,530.3 L800.0,534.4 L803.0,538.6 L806.0,542.7 L809.0,546.8 L812.0,551.0 L815.0,555.1 L818.0,559.3 L821.0,563.5 L824.0,567.7 L827.0,571.9 L830.0,576.2 L833.0,580.5 L836.0,584.9 L839.0,589.3 L842.0,593.7 L845.0,598.2 L848.0,602.7 L851.0,607.3 L854.0,611.9 L857.0,616.6 L860.0,621.3 L863.0,626.0 L866.0,630.7 L869.0,635.5 L872.0,640.3 L875.0,645.2 L878.0,650.0 L881.0,654.9 L884.0,659.8 L887.0,664.7 L890.0,669.7 L893.0,674.6 L896.0,679.6 L899.0,684.5 L902.0,689.5 L905.0,694.5 L908.0,699.4 L911.0,704.4 L914.0,709.3 L917.0,714.3 L920.0,719.2 L923.0,724.1 L926.0,729.0 L929.0,733.9 L932.0,738.8 L935.0,743.6 L938.0,748.4 L941.0,753.2 L944.0,757.9 L947.0,762.6 L950.0,767.2 L953.0,771.9 L956.0,776.4 L959.0,781.0 L962.0,785.4 L965.0,789.7 L968.0,793.9 L971.0,798.1 L974.0,802.2 L977.0,806.3 L980.0,810.4 L983.0,814.3 L986.0,818.3 L989.0,822.2 L992.0,826.0 L995.0,829.9 L998.0,833.6 L1001.0,837.5 L1004.0,841.5 L1007.0,845.4 L1010.0,849.3 L1013.0,853.2 L1016.0,857.1 L1019.0,860.9 L1022.0,864.7 L1025.0,868.5 L1028.0,872.3 L1031.0,876.1 L1034.0,879.9 L1037.0,883.6 L1040.0,887.3 L1043.0,891.0 L1046.0,894.7 L1049.0,898.4 L1052.0,902.0 L1055.0,905.7 L1058.0,909.3 L1061.0,912.9 L1064.0,916.5 L1067.0,920.0 L1070.0,923.6 L1073.0,927.1 L1076.0,930.6 L1079.0,934.0 L1082.0,937.3 L1085.0,940.7 L1088.0,943.9 L1091.0,947.1 L1094.0,950.2 L1097.0,953.3 L1100.0,956.3 L1103.0,959.2 L1106.0,962.0 L1109.0,964.9 L1112.0,967.6 L1115.0,970.4 L1118.0,973.1 L1121.0,975.7 L1124.0,978.3 L1127.0,980.9 L1130.0,983.5 L1133.0,986.0 L1136.0,988.5 L1139.0,990.9 L1142.0,993.4 L1145.0,995.8 L1148.0,998.1 L1151.0,1000.5 L1154.0,1002.8 L1157.0,1005.0 L1160.0,1007.2 L1163.0,1009.3 L1166.0,1011.3 L1169.0,1013.3 L1172.0,1015.3 L1175.0,1017.2 L1178.0,1019.1 L1181.0,1021.0 L1184.0,1022.9 L1187.0,1024.8 L1190.0,1026.7 L1193.0,1028.5 L1196.0,1030.5 L1199.0,1032.4 L1202.0,1034.3 L1205.0,1036.3 L1208.0,1038.2 L1211.0,1040.0 L1214.0,1041.9 L1217.0,1043.8 L1220.0,1045.6 L1223.0,1047.4 L1226.0,1049.3 L1229.0,1051.1 L1232.0,1052.9 L1235.0,1054.7 L1238.0,1056.6 L1241.0,1058.4 L1244.0,1060.2 L1247.0,1062.1 L1250.0,1064.0 L1253.0,1065.9 L1256.0,1067.8 L1259.0,1069.7 L1262.0,1071.6 L1265.0,1073.5 L1268.0,1075.4 L1271.0,1077.3 L1274.0,1079.2 L1277.0,1081.1 L1280.0,1083.0 L1283.0,1084.8 L1286.0,1086.7 L1289.0,1088.5 L1292.0,1090.3 L1295.0,1092.1 L1298.0,1093.9 L1301.0,1095.6 L1304.0,1097.3 L1307.0,1099.0 L1310.0,1100.7 L1313.0,1102.3 L1316.0,1104.0 L1319.0,1105.6 L1322.0,1107.2 L1325.0,1108.8 L1328.0,1110.3 L1331.0,1111.9 L1334.0,1113.5 L1337.0,1115.0 L1340.0,1116.5 L1343.0,1118.1 L1346.0,1119.6 L1349.0,1121.1 L1352.0,1122.6 L1355.0,1124.1 L1358.0,1125.7 L1361.0,1127.3 L1364.0,1128.8 L1367.0,1130.3 L1370.0,1131.8 L1373.0,1133.3 L1376.0,1134.6 L1379.0,1135.9 L1382.0,1137.1 L1385.0,1138.3 L1388.0,1139.4 L1391.0,1140.4 L1394.0,1141.5 L1397.0,1142.5 L1400.0,1143.6 L1403.0,1144.6 L1406.0,1145.6 L1409.0,1146.7 L1412.0,1147.7 L1415.0,1148.7 L1418.0,1149.6 L1421.0,1150.6 L1424.0,1151.6 L1427.0,1152.5 L1430.0,1153.4 L1433.0,1154.4 L1436.0,1155.3 L1439.0,1156.2 L1442.0,1157.1 L1445.0,1158.0 L1448.0,1158.9 L1451.0,1159.8 L1454.0,1160.7 L1457.0,1161.5 L1460.0,1162.4 L1463.0,1163.3 L1466.0,1164.1 L1469.0,1165.0 L1472.0,1165.9 L1475.0,1166.7 L1478.0,1167.6 L1481.0,1168.5 L1484.0,1169.3 L1487.0,1170.2 L1490.0,1171.0 L1493.0,1171.9 L1496.0,1172.7 L1499.0,1173.5 L1502.0,1174.3 L1505.0,1175.1 L1508.0,1175.9 L1511.0,1176.7 L1514.0,1177.5 L1517.0,1178.2 L1520.0,1179.0 L1523.0,1179.7 L1526.0,1180.4 L1529.0,1181.1 L1532.0,1181.8 L1535.0,1182.4 L1538.0,1183.0 L1541.0,1183.7 L1544.0,1184.3 L1547.0,1184.8 L1550.0,1185.4 L1553.0,1186.0 L1556.0,1186.5 L1559.0,1187.1 L1562.0,1187.6 L1565.0,1188.1 L1568.0,1188.6 L1571.0,1189.1 L1574.0,1189.6 L1577.0,1190.1 L1580.0,1190.6 L1583.0,1191.0 L1586.0,1191.5 L1589.0,1192.0 L1592.0,1192.4 L1595.0,1192.8 L1598.0,1193.2 L1601.0,1193.7 L1604.0,1194.1 L1607.0,1194.5 L1610.0,1194.8 L1613.0,1195.2 L1616.0,1195.6 L1619.0,1196.0 L1622.0,1196.3 L1625.0,1196.7 L1628.0,1197.0 L1631.0,1197.4 L1634.0,1197.7 L1637.0,1198.0 L1640.0,1198.3 L1643.0,1198.6 L1646.0,1198.9 L1649.0,1199.2 L1652.0,1199.5 L1655.0,1199.7 L1658.0,1200.0 L1661.0,1200.3 L1664.0,1200.6 L1667.0,1200.9 L1670.0,1201.2 L1673.0,1201.4 L1676.0,1201.7 L1679.0,1202.0 L1682.0,1202.2 L1685.0,1202.5 L1688.0,1202.7 L1691.0,1203.0 L1694.0,1203.3 L1697.0,1203.5 L1700.0,1203.8 L1703.0,1204.0 L1706.0,1204.3 L1709.0,1204.5 L1712.0,1204.8 L1715.0,1205.0 L1718.0,1205.3 L1721.0,1205.5 L1724.0,1205.7 L1727.0,1206.0 L1730.0,1206.2 L1733.0,1206.4 L1736.0,1206.6 L1739.0,1206.9 L1742.0,1207.1 L1745.0,1207.3 L1748.0,1207.5 L1751.0,1207.7 L1754.0,1207.9 L1757.0,1208.1 L1760.0,1208.3 L1763.0,1208.6 L1766.0,1208.8 L1769.0,1209.0 L1772.0,1209.2 L1775.0,1209.3 L1778.0,1209.5 L1781.0,1209.7 L1784.0,1209.9 L1787.0,1210.1 L1790.0,1210.3 L1793.0,1210.5 L1796.0,1210.7 L1799.0,1210.9 L1802.0,1211.1 L1805.0,1211.2 L1808.0,1211.4 L1811.0,1211.6 L1814.0,1211.8 L1817.0,1212.0 L1820.0,1212.1 L1823.0,1212.3 L1826.0,1212.5 L1829.0,1212.7 L1832.0,1212.8 L1835.0,1213.0 L1838.0,1213.2 L1841.0,1213.4 L1844.0,1213.5 L1847.0,1213.7 L1850.0,1213.9 L1853.0,1214.0 L1856.0,1214.2 L1859.0,1214.4 L1862.0,1214.6 L1865.0,1214.7 L1868.0,1214.9 L1871.0,1215.1 L1874.0,1215.3 L1877.0,1215.4 L1880.0,1215.6 L1883.0,1215.8 L1886.0,1216.0 L1889.0,1216.1 L1892.0,1216.3 L1895.0,1216.5 L1898.0,1216.7 L1901.0,1216.9 L1904.0,1217.1 L1907.0,1217.3 L1910.0,1217.5 L1913.0,1217.6 L1916.0,1217.8 L1919.0,1218.0 L1922.0,1218.2 L1925.0,1218.4 L1928.0,1218.7 L1931.0,1218.9 L1934.0,1219.1 L1937.0,1219.3 L1940.0,1219.5 L1943.0,1219.7 L1946.0,1220.0 L1949.0,1220.2 L1952.0,1220.4 L1955.0,1220.7 L1964.0,1221.4" stroke="#ffa500" stroke-width="9.7"/>
<path d="M248.0,1177.8 L257.0,1173.0 L260.0,1171.4 L263.0,1169.8 L266.0,1168.1 L269.0,1166.4 L272.0,1164.6 L275.0,1162.8 L278.0,1160.9 L281.0,1158.9 L284.0,1156.9 L287.0,1154.8 L290.0,1152.6 L293.0,1150.4 L296.0,1148.1 L299.0,1145.7 L302.0,1143.2 L305.0,1140.6 L308.0,1137.9 L311.0,1135.1 L314.0,1132.3 L317.0,1129.3 L320.0,1126.2 L323.0,1122.9 L326.0,1119.6 L329.0,1116.1 L332.0,1112.5 L335.0,1108.8 L338.0,1105.0 L341.0,1101.0 L344.0,1096.8 L347.0,1092.5 L350.0,1088.1 L353.0,1083.5 L356.0,1078.8 L359.0,1073.8 L362.0,1068.8 L365.0,1063.5 L368.0,1058.1 L371.0,1052.5 L374.0,1046.7 L377.0,1040.8 L380.0,1034.7 L383.0,1028.4 L386.0,1022.0 L389.0,1015.4 L392.0,1008.7 L395.0,1001.9 L398.0,995.0 L401.0,988.0 L404.0,980.9 L407.0,973.8 L410.0,966.5 L413.0,959.3 L416.0,951.9 L419.0,944.6 L422.0,937.2 L425.0,929.8 L428.0,922.4 L431.0,915.0 L434.0,907.6 L437.0,900.2 L440.0,892.9 L443.0,885.6 L446.0,878.4 L449.0,871.2 L452.0,864.1 L455.0,857.1 L458.0,850.2 L461.0,843.3 L464.0,836.6 L467.0,829.9 L470.0,823.4 L473.0,817.0 L476.0,810.8 L479.0,804.7 L482.0,798.7 L485.0,792.9 L488.0,787.1 L491.0,781.5 L494.0,776.0 L497.0,770.5 L500.0,765.1 L503.0,759.7 L506.0,754.4 L509.0,749.1 L512.0,743.8 L515.0,738.5 L518.0,733.2 L521.0,727.9 L524.0,722.5 L527.0,717.1 L530.0,711.6 L533.0,706.0 L536.0,700.4 L539.0,694.6 L542.0,688.7 L545.0,682.7 L548.0,676.5 L551.0,670.3 L554.0,663.8 L557.0,657.3 L560.0,650.7 L563.0,644.0 L566.0,637.2 L569.0,630.4 L572.0,623.5 L575.0,616.6 L578.0,609.6 L581.0,602.6 L584.0,595.7 L587.0,588.7 L590.0,581.8 L593.0,574.9 L596.0,568.1 L599.0,561.4 L602.0,554.8 L605.0,548.3 L608.0,542.0 L611.0,535.8 L614.0,529.7 L617.0,523.9 L620.0,518.3 L623.0,512.8 L626.0,507.9 L629.0,503.2 L632.0,498.6 L635.0,493.8 L638.0,488.9 L641.0,484.1 L644.0,479.7 L647.0,475.7 L650.0,472.0 L653.0,468.6 L656.0,465.5 L659.0,462.8 L662.0,460.4 L665.0,458.3 L668.0,456.6 L671.0,455.7 L674.0,455.1 L677.0,454.8 L680.0,454.8 L683.0,455.0 L686.0,455.6 L689.0,456.4 L692.0,457.5 L695.0,458.7 L698.0,460.2 L701.0,461.9 L704.0,463.8 L707.0,465.9 L710.0,468.0 L713.0,470.2 L716.0,472.4 L719.0,474.6 L722.0,476.6 L725.0,478.6 L728.0,480.4 L731.0,482.1 L734.0,483.6 L737.0,485.0 L740.0,486.5 L743.0,488.0 L746.0,489.5 L749.0,491.3 L752.0,493.1 L755.0,495.1 L758.0,497.3 L761.0,499.5 L764.0,501.9 L767.0,504.5 L770.0,507.1 L773.0,509.9 L776.0,512.8 L779.0,515.9 L782.0,519.0 L785.0,522.3 L788.0,525.7 L791.0,529.2 L794.0,532.8 L797.0,536.6 L800.0,540.4 L803.0,544.4 L806.0,548.4 L809.0,552.6 L812.0,556.8 L815.0,561.1 L818.0,565.4 L821.0,569.8 L824.0,574.3 L827.0,578.8 L830.0,583.3 L833.0,587.9 L836.0,592.5 L839.0,597.1 L842.0,601.7 L845.0,606.4 L848.0,611.0 L851.0,615.6 L854.0,620.2 L857.0,624.8 L860.0,629.4 L863.0,634.1 L866.0,638.7 L869.0,643.3 L872.0,647.9 L875.0,652.5 L878.0,657.1 L881.0,661.7 L884.0,666.4 L887.0,671.0 L890.0,675.6 L893.0,680.2 L896.0,684.8 L899.0,689.4 L902.0,694.0 L905.0,698.6 L908.0,703.2 L911.0,707.9 L914.0,712.5 L917.0,717.1 L920.0,721.7 L923.0,726.3 L926.0,730.9 L929.0,735.5 L932.0,740.2 L935.0,744.8 L938.0,749.4 L941.0,754.0 L944.0,758.6 L947.0,763.2 L950.0,767.9 L953.0,772.5 L956.0,777.1 L959.0,781.7 L962.0,786.3 L965.0,790.8 L968.0,795.2 L971.0,799.7 L974.0,804.1 L977.0,808.4 L980.0,812.6 L983.0,816.7 L986.0,820.7 L989.0,824.6 L992.0,828.3 L995.0,831.8 L998.0,835.3 L1001.0,838.8 L1004.0,842.4 L1007.0,846.0 L1010.0,849.6 L1013.0,853.3 L1016.0,857.0 L1019.0,860.8 L1022.0,864.5 L1025.0,868.3 L1028.0,872.1 L1031.0,876.0 L1034.0,879.8 L1037.0,883.5 L1040.0,887.3 L1043.0,891.1 L1046.0,894.8 L1049.0,898.5 L1052.0,902.1 L1055.0,905.7 L1058.0,909.4 L1061.0,913.0 L1064.0,916.5 L1067.0,920.1 L1070.0,923.6 L1073.0,927.2 L1076.0,930.6 L1079.0,934.0 L1082.0,937.4 L1085.0,940.7 L1088.0,944.0 L1091.0,947.2 L1094.0,950.3 L1097.0,953.4 L1100.0,956.4 L1103.0,959.3 L1106.0,962.2 L1109.0,965.0 L1112.0,967.8 L1115.0,970.5 L1118.0,973.2 L1121.0,975.9 L1124.0,978.5 L1127.0,981.1 L1130.0,983.7 L1133.0,986.2 L1136.0,988.7 L1139.0,991.2 L1142.0,993.6 L1145.0,996.1 L1148.0,998.4 L1151.0,1000.8 L1154.0,1003.1 L1157.0,1005.4 L1160.0,1007.5 L1163.0,1009.6 L1166.0,1011.7 L1169.0,1013.7 L1172.0,1015.7 L1175.0,1017.6 L1178.0,1019.6 L1181.0,1021.5 L1184.0,1023.4 L1187.0,1025.3 L1190.0,1027.2 L1193.0,1029.1 L1196.0,1031.0 L1199.0,1032.9 L1202.0,1034.9 L1205.0,1036.8 L1208.0,1038.7 L1211.0,1040.6 L1214.0,1042.5 L1217.0,1044.4 L1220.0,1046.2 L1223.0,1048.1 L1226.0,1049.9 L1229.0,1051.8 L1232.0,1053.6 L1235.0,1055.4 L1238.0,1057.3 L1241.0,1059.1 L1244.0,1061.0 L1247.0,1062.8 L1250.0,1064.7 L1253.0,1066.6 L1256.0,1068.5 L1259.0,1070.5 L1262.0,1072.4 L1265.0,1074.3 L1268.0,1076.2 L1271.0,1078.1 L1274.0,1080.0 L1277.0,1081.9 L1280.0,1083.8 L1283.0,1085.7 L1286.0,1087.5 L1289.0,1089.4 L1292.0,1091.2 L1295.0,1093.0 L1298.0,1094.7 L1301.0,1096.5 L1304.0,1098.2 L1307.0,1099.9 L1310.0,1101.6 L1313.0,1103.2 L1316.0,1104.9 L1319.0,1106.5 L1322.0,1108.1 L1325.0,1109.7 L1328.0,1111.3 L1331.0,1112.9 L1334.0,1114.4 L1337.0,1116.0 L1340.0,1117.5 L1343.0,1119.0 L1346.0,1120.5 L1349.0,1122.1 L1352.0,1123.6 L1355.0,1125.1 L1358.0,1126.7 L1361.0,1128.2 L1364.0,1129.8 L1367.0,1131.3 L1370.0,1132.8 L1373.0,1134.3 L1376.0,1135.6 L1379.0,1136.9 L1382.0,1138.1 L1385.0,1139.3 L1388.0,1140.4 L1391.0,1141.5 L1394.0,1142.5 L1397.0,1143.5 L1400.0,1144.6 L1403.0,1145.6 L1406.0,1146.7 L1409.0,1147.7 L1412.0,1148.7 L1415.0,1149.7 L1418.0,1150.7 L1421.0,1151.6 L1424.0,1152.6 L1427.0,1153.6 L1430.0,1154.5 L1433.0,1155.4 L1436.0,1156.3 L1439.0,1157.2 L1442.0,1158.1 L1445.0,1159.0 L1448.0,1159.9 L1451.0,1160.8 L1454.0,1161.7 L1457.0,1162.6 L1460.0,1163.4 L1463.0,1164.3 L1466.0,1165.2 L1469.0,1166.1 L1472.0,1166.9 L1475.0,1167.8 L1478.0,1168.6 L1481.0,1169.5 L1484.0,1170.4 L1487.0,1171.2 L1490.0,1172.1 L1493.0,1172.9 L1496.0,1173.7 L1499.0,1174.5 L1502.0,1175.4 L1505.0,1176.2 L1508.0,1176.9 L1511.0,1177.7 L1514.0,1178.5 L1517.0,1179.2 L1520.0,1180.0 L1523.0,1180.7 L1526.0,1181.4 L1529.0,1182.1 L1532.0,1182.8 L1535.0,1183.4 L1538.0,1184.1 L1541.0,1184.7 L1544.0,1185.3 L1547.0,1185.9 L1550.0,1186.4 L1553.0,1187.0 L1556.0,1187.5 L1559.0,1188.1 L1562.0,1188.6 L1565.0,1189.1 L1568.0,1189.6 L1571.0,1190.1 L1574.0,1190.6 L1577.0,1191.1 L1580.0,1191.6 L1583.0,1192.0 L1586.0,1192.5 L1589.0,1192.9 L1592.0,1193.4 L1595.0,1193.8 L1598.0,1194.2 L1601.0,1194.6 L1604.0,1195.0 L1607.0,1195.4 L1610.0,1195.8 L1613.0,1196.2 L1616.0,1196.5 L1619.0,1196.9 L1622.0,1197.3 L1625.0,1197.6 L1628.0,1198.0 L1631.0,1198.3 L1634.0,1198.6 L1637.0,1198.9 L1640.0,1199.2 L1643.0,1199.5 L1646.0,1199.8 L1649.0,1200.1 L1652.0,1200.4 L1655.0,1200.6 L1658.0,1200.9 L1661.0,1201.2 L1664.0,1201.5 L1667.0,1201.8 L1670.0,1202.0 L1673.0,1202.3 L1676.0,1202.6 L1679.0,1202.8 L1682.0,1203.1 L1685.0,1203.3 L1688.0,1203.6 L1691.0,1203.8 L1694.0,1204.1 L1697.0,1204.3 L1700.0,1204.6 L1703.0,1204.9 L1706.0,1205.1 L1709.0,1205.3 L1712.0,1205.6 L1715.0,1205.8 L1718.0,1206.1 L1721.0,1206.3 L1724.0,1206.5 L1727.0,1206.8 L1730.0,1207.0 L1733.0,1207.2 L1736.0,1207.4 L1739.0,1207.6 L1742.0,1207.9 L1745.0,1208.1 L1748.0,1208.3 L1751.0,1208.5 L1754.0,1208.7 L1757.0,1208.9 L1760.0,1209.1 L1763.0,1209.3 L1766.0,1209.5 L1769.0,1209.7 L1772.0,1209.9 L1775.0,1210.1 L1778.0,1210.3 L1781.0,1210.5 L1784.0,1210.7 L1787.0,1210.8 L1790.0,1211.0 L1793.0,1211.2 L1796.0,1211.4 L1799.0,1211.6 L1802.0,1211.8 L1805.0,1211.9 L1808.0,1212.1 L1811.0,1212.3 L1814.0,1212.5 L1817.0,1212.6 L1820.0,1212.8 L1823.0,1213.0 L1826.0,1213.2 L1829.0,1213.3 L1832.0,1213.5 L1835.0,1213.7 L1838.0,1213.9 L1841.0,1214.0 L1844.0,1214.2 L1847.0,1214.4 L1850.0,1214.5 L1853.0,1214.7 L1856.0,1214.9 L1859.0,1215.0 L1862.0,1215.2 L1865.0,1215.4 L1868.0,1215.6 L1871.0,1215.7 L1874.0,1215.9 L1877.0,1216.1 L1880.0,1216.3 L1883.0,1216.4 L1886.0,1216.6 L1889.0,1216.8 L1892.0,1217.0 L1895.0,1217.2 L1898.0,1217.3 L1901.0,1217.5 L1904.0,1217.7 L1907.0,1217.9 L1910.0,1218.1 L1913.0,1218.3 L1916.0,1218.5 L1919.0,1218.7 L1922.0,1218.9 L1925.0,1219.1 L1928.0,1219.3 L1931.0,1219.5 L1934.0,1219.7 L1937.0,1219.9 L1940.0,1220.1 L1943.0,1220.4 L1946.0,1220.6 L1949.0,1220.8 L1952.0,1221.0 L1955.0,1221.3 L1964.0,1222.0" stroke="#ff6a00" stroke-width="9.7"/>
<path d="M248.0,1181.1 L257.0,1178.1 L260.0,1177.2 L263.0,1176.1 L266.0,1174.9 L269.0,1173.7 L272.0,1172.4 L275.0,1171.0 L278.0,1169.5 L281.0,1167.9 L284.0,1166.3 L287.0,1164.5 L290.0,1162.7 L293.0,1160.8 L296.0,1158.9 L299.0,1156.8 L302.0,1154.7 L305.0,1152.5 L308.0,1150.3 L311.0,1147.9 L314.0,1145.5 L317.0,1143.1 L320.0,1140.5 L323.0,1137.9 L326.0,1135.2 L329.0,1132.5 L332.0,1129.6 L335.0,1126.8 L338.0,1123.8 L341.0,1120.8 L344.0,1117.7 L347.0,1114.6 L350.0,1111.3 L353.0,1108.1 L356.0,1104.7 L359.0,1101.3 L362.0,1097.9 L365.0,1094.4 L368.0,1090.8 L371.0,1087.2 L374.0,1083.5 L377.0,1079.8 L380.0,1076.0 L383.0,1072.1 L386.0,1068.2 L389.0,1064.2 L392.0,1060.2 L395.0,1056.2 L398.0,1052.1 L401.0,1047.9 L404.0,1043.7 L407.0,1039.4 L410.0,1035.1 L413.0,1030.8 L416.0,1026.4 L419.0,1021.9 L422.0,1017.5 L425.0,1012.9 L428.0,1008.4 L431.0,1003.7 L434.0,999.1 L437.0,994.4 L440.0,989.6 L443.0,984.9 L446.0,980.1 L449.0,975.2 L452.0,970.3 L455.0,965.4 L458.0,960.4 L461.0,955.4 L464.0,950.4 L467.0,945.3 L470.0,940.3 L473.0,935.1 L476.0,930.0 L479.0,924.8 L482.0,919.6 L485.0,914.3 L488.0,909.1 L491.0,903.8 L494.0,898.5 L497.0,893.1 L500.0,887.7 L503.0,882.3 L506.0,876.9 L509.0,871.5 L512.0,866.0 L515.0,860.6 L518.0,855.1 L521.0,849.5 L524.0,844.0 L527.0,838.4 L530.0,832.9 L533.0,827.3 L536.0,821.7 L539.0,816.1 L542.0,810.5 L545.0,804.9 L548.0,799.4 L551.0,793.8 L554.0,788.3 L557.0,782.8 L560.0,777.3 L563.0,771.8 L566.0,766.4 L569.0,761.1 L572.0,755.8 L575.0,750.5 L578.0,745.4 L581.0,740.2 L584.0,735.2 L587.0,730.2 L590.0,725.3 L593.0,720.5 L596.0,715.8 L599.0,711.2 L602.0,706.7 L605.0,702.3 L608.0,698.0 L611.0,693.8 L614.0,689.8 L617.0,685.8 L620.0,682.0 L623.0,678.4 L626.0,674.7 L629.0,671.0 L632.0,667.4 L635.0,663.9 L638.0,660.4 L641.0,657.1 L644.0,653.9 L647.0,650.8 L650.0,648.0 L653.0,645.3 L656.0,642.8 L659.0,640.5 L662.0,638.4 L665.0,636.5 L668.0,634.9 L671.0,633.9 L674.0,633.2 L677.0,632.6 L680.0,632.3 L683.0,632.1 L686.0,632.1 L689.0,632.3 L692.0,632.6 L695.0,633.1 L698.0,633.7 L701.0,634.5 L704.0,635.4 L707.0,636.3 L710.0,637.4 L713.0,638.6 L716.0,639.8 L719.0,641.1 L722.0,642.4 L725.0,643.8 L728.0,645.2 L731.0,646.7 L734.0,648.2 L737.0,649.8 L740.0,651.4 L743.0,653.0 L746.0,654.7 L749.0,656.4 L752.0,658.2 L755.0,660.0 L758.0,661.8 L761.0,663.7 L764.0,665.7 L767.0,667.7 L770.0,669.8 L773.0,672.0 L776.0,674.2 L779.0,676.5 L782.0,678.9 L785.0,681.3 L788.0,683.9 L791.0,686.5 L794.0,689.2 L797.0,692.0 L800.0,694.9 L803.0,697.9 L806.0,701.0 L809.0,704.1 L812.0,707.4 L815.0,710.7 L818.0,714.0 L821.0,717.5 L824.0,720.9 L827.0,724.4 L830.0,727.9 L833.0,731.5 L836.0,735.0 L839.0,738.6 L842.0,742.2 L845.0,745.8 L848.0,749.3 L851.0,752.9 L854.0,756.5 L857.0,760.0 L860.0,763.5 L863.0,767.1 L866.0,770.6 L869.0,774.1 L872.0,777.6 L875.0,781.1 L878.0,784.6 L881.0,788.0 L884.0,791.5 L887.0,794.9 L890.0,798.3 L893.0,801.7 L896.0,805.1 L899.0,808.5 L902.0,811.8 L905.0,815.2 L908.0,818.5 L911.0,821.8 L914.0,825.0 L917.0,828.3 L920.0,831.6 L923.0,834.8 L926.0,838.1 L929.0,841.3 L932.0,844.6 L935.0,847.9 L938.0,851.2 L941.0,854.5 L944.0,857.8 L947.0,861.2 L950.0,864.5 L953.0,867.9 L956.0,871.3 L959.0,874.7 L962.0,878.2 L965.0,881.6 L968.0,885.1 L971.0,888.5 L974.0,891.9 L977.0,895.3 L980.0,898.7 L983.0,902.0 L986.0,905.3 L989.0,908.6 L992.0,911.8 L995.0,914.9 L998.0,918.1 L1001.0,921.2 L1004.0,924.6 L1007.0,927.8 L1010.0,931.0 L1013.0,934.2 L1016.0,937.3 L1019.0,940.4 L1022.0,943.4 L1025.0,946.4 L1028.0,949.4 L1031.0,952.4 L1034.0,955.3 L1037.0,958.3 L1040.0,961.2 L1043.0,964.1 L1046.0,967.0 L1049.0,969.9 L1052.0,972.8 L1055.0,975.7 L1058.0,978.6 L1061.0,981.5 L1064.0,984.4 L1067.0,987.3 L1070.0,990.1 L1073.0,992.9 L1076.0,995.7 L1079.0,998.5 L1082.0,1001.2 L1085.0,1003.8 L1088.0,1006.4 L1091.0,1009.0 L1094.0,1011.4 L1097.0,1013.8 L1100.0,1016.2 L1103.0,1018.4 L1106.0,1020.7 L1109.0,1022.9 L1112.0,1025.0 L1115.0,1027.2 L1118.0,1029.3 L1121.0,1031.4 L1124.0,1033.5 L1127.0,1035.6 L1130.0,1037.6 L1133.0,1039.6 L1136.0,1041.7 L1139.0,1043.7 L1142.0,1045.6 L1145.0,1047.6 L1148.0,1049.6 L1151.0,1051.6 L1154.0,1053.5 L1157.0,1055.5 L1160.0,1057.5 L1163.0,1059.4 L1166.0,1061.3 L1169.0,1063.2 L1172.0,1065.2 L1175.0,1067.0 L1178.0,1068.9 L1181.0,1070.8 L1184.0,1072.6 L1187.0,1074.4 L1190.0,1076.2 L1193.0,1078.0 L1196.0,1079.7 L1199.0,1081.5 L1202.0,1083.1 L1205.0,1084.7 L1208.0,1086.2 L1211.0,1087.6 L1214.0,1088.9 L1217.0,1090.2 L1220.0,1091.4 L1223.0,1092.6 L1226.0,1093.8 L1229.0,1094.9 L1232.0,1096.0 L1235.0,1097.1 L1238.0,1098.3 L1241.0,1099.5 L1244.0,1100.7 L1247.0,1101.9 L1250.0,1103.2 L1253.0,1104.5 L1256.0,1105.9 L1259.0,1107.2 L1262.0,1108.5 L1265.0,1109.9 L1268.0,1111.2 L1271.0,1112.5 L1274.0,1113.8 L1277.0,1115.1 L1280.0,1116.4 L1283.0,1117.6 L1286.0,1118.9 L1289.0,1120.1 L1292.0,1121.3 L1295.0,1122.6 L1298.0,1123.7 L1301.0,1124.9 L1304.0,1126.1 L1307.0,1127.2 L1310.0,1128.3 L1313.0,1129.4 L1316.0,1130.5 L1319.0,1131.5 L1322.0,1132.6 L1325.0,1133.6 L1328.0,1134.6 L1331.0,1135.7 L1334.0,1136.7 L1337.0,1137.7 L1340.0,1138.7 L1343.0,1139.8 L1346.0,1140.8 L1349.0,1141.9 L1352.0,1142.9 L1355.0,1144.0 L1358.0,1145.0 L1361.0,1146.1 L1364.0,1147.1 L1367.0,1148.1 L1370.0,1149.1 L1373.0,1150.1 L1376.0,1151.1 L1379.0,1152.0 L1382.0,1153.0 L1385.0,1154.0 L1388.0,1155.0 L1391.0,1156.0 L1394.0,1157.0 L1397.0,1158.0 L1400.0,1159.0 L1403.0,1160.0 L1406.0,1161.0 L1409.0,1162.1 L1412.0,1163.1 L1415.0,1164.1 L1418.0,1165.1 L1421.0,1166.1 L1424.0,1167.1 L1427.0,1168.1 L1430.0,1169.0 L1433.0,1170.0 L1436.0,1170.9 L1439.0,1171.8 L1442.0,1172.7 L1445.0,1173.6 L1448.0,1174.4 L1451.0,1175.3 L1454.0,1176.1 L1457.0,1176.8 L1460.0,1177.6 L1463.0,1178.3 L1466.0,1179.0 L1469.0,1179.7 L1472.0,1180.4 L1475.0,1181.0 L1478.0,1181.7 L1481.0,1182.4 L1484.0,1183.0 L1487.0,1183.6 L1490.0,1184.3 L1493.0,1184.9 L1496.0,1185.5 L1499.0,1186.1 L1502.0,1186.7 L1505.0,1187.3 L1508.0,1187.9 L1511.0,1188.5 L1514.0,1189.1 L1517.0,1189.7 L1520.0,1190.2 L1523.0,1190.8 L1526.0,1191.3 L1529.0,1191.8 L1532.0,1192.4 L1535.0,1192.9 L1538.0,1193.4 L1541.0,1193.9 L1544.0,1194.4 L1547.0,1194.9 L1550.0,1195.4 L1553.0,1195.8 L1556.0,1196.3 L1559.0,1196.7 L1562.0,1197.1 L1565.0,1197.5 L1568.0,1197.9 L1571.0,1198.2 L1574.0,1198.6 L1577.0,1198.9 L1580.0,1199.2 L1583.0,1199.5 L1586.0,1199.9 L1589.0,1200.1 L1592.0,1200.4 L1595.0,1200.7 L1598.0,1201.0 L1601.0,1201.2 L1604.0,1201.5 L1607.0,1201.7 L1610.0,1202.0 L1613.0,1202.2 L1616.0,1202.5 L1619.0,1202.7 L1622.0,1202.9 L1625.0,1203.1 L1628.0,1203.3 L1631.0,1203.5 L1634.0,1203.7 L1637.0,1203.8 L1640.0,1204.0 L1643.0,1204.1 L1646.0,1204.2 L1649.0,1204.3 L1652.0,1204.5 L1655.0,1204.6 L1658.0,1204.8 L1661.0,1205.0 L1664.0,1205.2 L1667.0,1205.3 L1670.0,1205.5 L1673.0,1205.7 L1676.0,1205.9 L1679.0,1206.0 L1682.0,1206.2 L1685.0,1206.4 L1688.0,1206.6 L1691.0,1206.8 L1694.0,1207.0 L1697.0,1207.2 L1700.0,1207.4 L1703.0,1207.7 L1706.0,1207.9 L1709.0,1208.2 L1712.0,1208.4 L1715.0,1208.6 L1718.0,1208.9 L1721.0,1209.1 L1724.0,1209.3 L1727.0,1209.5 L1730.0,1209.8 L1733.0,1210.0 L1736.0,1210.2 L1739.0,1210.4 L1742.0,1210.7 L1745.0,1210.9 L1748.0,1211.1 L1751.0,1211.3 L1754.0,1211.5 L1757.0,1211.7 L1760.0,1211.9 L1763.0,1212.1 L1766.0,1212.3 L1769.0,1212.5 L1772.0,1212.7 L1775.0,1212.9 L1778.0,1213.1 L1781.0,1213.3 L1784.0,1213.5 L1787.0,1213.7 L1790.0,1213.9 L1793.0,1214.0 L1796.0,1214.2 L1799.0,1214.4 L1802.0,1214.6 L1805.0,1214.8 L1808.0,1214.9 L1811.0,1215.1 L1814.0,1215.3 L1817.0,1215.4 L1820.0,1215.6 L1823.0,1215.7 L1826.0,1215.9 L1829.0,1216.1 L1832.0,1216.2 L1835.0,1216.4 L1838.0,1216.5 L1841.0,1216.7 L1844.0,1216.8 L1847.0,1216.9 L1850.0,1217.1 L1853.0,1217.2 L1856.0,1217.4 L1859.0,1217.5 L1862.0,1217.7 L1865.0,1217.8 L1868.0,1217.9 L1871.0,1218.1 L1874.0,1218.2 L1877.0,1218.3 L1880.0,1218.5 L1883.0,1218.6 L1886.0,1218.7 L1889.0,1218.9 L1892.0,1219.0 L1895.0,1219.1 L1898.0,1219.3 L1901.0,1219.4 L1904.0,1219.5 L1907.0,1219.7 L1910.0,1219.8 L1913.0,1219.9 L1916.0,1220.1 L1919.0,1220.2 L1922.0,1220.4 L1925.0,1220.5 L1928.0,1220.6 L1931.0,1220.8 L1934.0,1220.9 L1937.0,1221.0 L1940.0,1221.2 L1943.0,1221.3 L1946.0,1221.5 L1949.0,1221.6 L1952.0,1221.8 L1955.0,1221.9 L1964.0,1222.4" stroke="#ff1e00" stroke-width="9.7"/>
</g>
<text x="231" y="1252.0" text-anchor="end" font-size="63" font-family="'Liberation Serif', 'Times New Roman', serif" font-weight="bold">0</text>
<text x="231" y="1015.5" text-anchor="end" font-size="63" font-family="'Liberation Serif', 'Times New Roman', serif" font-weight="bold">200</text>
<text x="231" y="779.0" text-anchor="end" font-size="63" font-family="'Liberation Serif', 'Times New Roman', serif" font-weight="bold">400</text>
<text x="231" y="542.5" text-anchor="end" font-size="63" font-family="'Liberation Serif', 'Times New Roman', serif" font-weight="bold">600</text>
<text x="231" y="306.0" text-anchor="end" font-size="63" font-family="'Liberation Serif', 'Times New Roman', serif" font-weight="bold">800</text>
<text x="231" y="69.5" text-anchor="end" font-size="63" font-family="'Liberation Serif', 'Times New Roman', serif" font-weight="bold">1000</text>
<text x="257.0" y="1366.7" text-anchor="middle" font-size="63" font-family="'Liberation Serif', 'Times New Roman', serif" font-weight="bold">325</text>
<text x="633.9" y="1366.7" text-anchor="middle" font-size="63" font-family="'Liberation Serif', 'Times New Roman', serif" font-weight="bold">375</text>
<text x="1010.8" y="1366.7" text-anchor="middle" font-size="63" font-family="'Liberation Serif', 'Times New Roman', serif" font-weight="bold">425</text>
<text x="1387.6" y="1366.7" text-anchor="middle" font-size="63" font-family="'Liberation Serif', 'Times New Roman', serif" font-weight="bold">475</text>
<text x="1764.5" y="1366.7" text-anchor="middle" font-size="63" font-family="'Liberation Serif', 'Times New Roman', serif" font-weight="bold">525</text>
<text x="1039.2" y="1451.3" letter-spacing="-0.2" text-anchor="middle" font-size="85" font-family="'Liberation Serif', 'Times New Roman', serif" font-weight="bold">Wavelength / nm</text>
<text transform="translate(94,737) rotate(-90)" text-anchor="middle" font-size="86" font-family="'Liberation Serif', 'Times New Roman', serif" font-weight="bold">Intensity / a.u.</text>
<line x1="1321.5" y1="154.5" x2="1480.5" y2="154.5" stroke="#dc00ff" stroke-width="6.5"/>
<text x="1507.5" y="153.0" font-size="44" font-family="'Liberation Serif', 'Times New Roman', serif" font-weight="bold">Acetone</text>
<line x1="1321.5" y1="244.8" x2="1480.5" y2="244.8" stroke="#8b00ff" stroke-width="6.5"/>
<text x="1507.5" y="243.2" font-size="44" font-family="'Liberation Serif', 'Times New Roman', serif" font-weight="bold">CH<tspan font-size="29" dy="8">2</tspan><tspan dy="-8">Cl</tspan><tspan font-size="29" dy="8">2</tspan></text>
<line x1="1321.5" y1="335.0" x2="1480.5" y2="335.0" stroke="#2300ff" stroke-width="6.5"/>
<text x="1507.5" y="333.5" font-size="44" font-family="'Liberation Serif', 'Times New Roman', serif" font-weight="bold">DMA</text>
<line x1="1321.5" y1="425.2" x2="1480.5" y2="425.2" stroke="#0064ff" stroke-width="6.5"/>
<text x="1507.5" y="423.8" font-size="44" font-family="'Liberation Serif', 'Times New Roman', serif" font-weight="bold">DMF</text>
<line x1="1321.5" y1="515.5" x2="1480.5" y2="515.5" stroke="#00e9ff" stroke-width="6.5"/>
<text x="1507.5" y="514.0" font-size="44" font-family="'Liberation Serif', 'Times New Roman', serif" font-weight="bold">DMSO</text>
<line x1="1321.5" y1="605.8" x2="1480.5" y2="605.8" stroke="#6bff8c" stroke-width="6.5"/>
<text x="1507.5" y="604.2" font-size="44" font-family="'Liberation Serif', 'Times New Roman', serif" font-weight="bold">Water</text>
<line x1="1321.5" y1="696.0" x2="1480.5" y2="696.0" stroke="#ffff00" stroke-width="6.5"/>
<text x="1507.5" y="694.5" font-size="44" font-family="'Liberation Serif', 'Times New Roman', serif" font-weight="bold">Methanol</text>
<line x1="1321.5" y1="786.2" x2="1480.5" y2="786.2" stroke="#ffa500" stroke-width="6.5"/>
<text x="1507.5" y="784.8" font-size="44" font-family="'Liberation Serif', 'Times New Roman', serif" font-weight="bold">Ethanol</text>
<line x1="1321.5" y1="876.5" x2="1480.5" y2="876.5" stroke="#ff6a00" stroke-width="6.5"/>
<text x="1507.5" y="875.0" font-size="44" font-family="'Liberation Serif', 'Times New Roman', serif" font-weight="bold">Acetonitrile</text>
<line x1="1321.5" y1="966.8" x2="1480.5" y2="966.8" stroke="#ff1e00" stroke-width="6.5"/>
<text x="1507.5" y="965.2" font-size="44" font-family="'Liberation Serif', 'Times New Roman', serif" font-weight="bold">Ethyl acetate</text>
</svg>
</body></html>
